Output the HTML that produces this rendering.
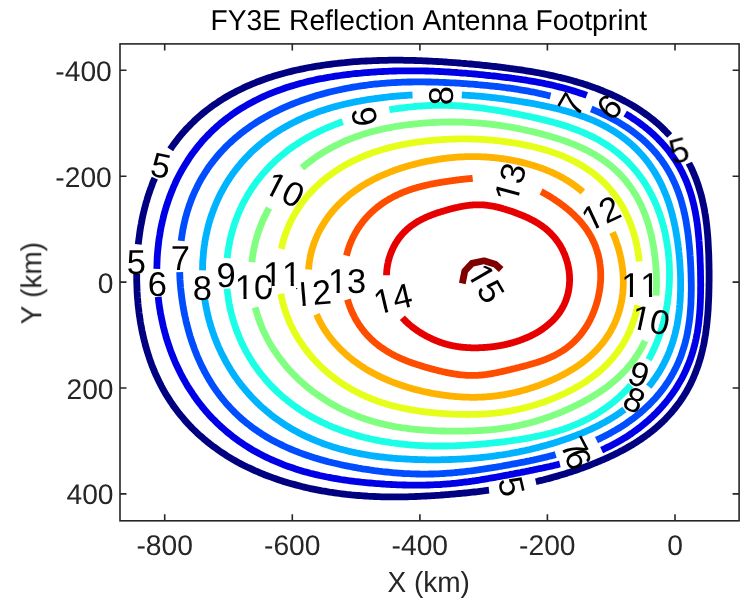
<!DOCTYPE html><html><head><meta charset="utf-8"><style>html,body{margin:0;padding:0;background:#fff;}svg{display:block;}</style></head><body>
<svg width="752" height="606" viewBox="0 0 752 606" font-family='"Liberation Sans", sans-serif' text-rendering="geometricPrecision">
<rect width="752" height="606" fill="#fff"/>
<defs><clipPath id="ax"><rect x="120" y="44" width="619" height="477"/></clipPath></defs>
<g clip-path="url(#ax)" fill="none" stroke-width="6.8" stroke-linejoin="round" stroke-linecap="butt">
<path d="M138.3,244.3 L138.6,241.3 L139.0,238.4 L139.4,235.4 L139.8,232.5 L140.2,229.5 L140.7,226.6 L141.3,223.6 L141.8,220.7 L142.4,217.8 L143.0,214.9 L143.7,212.0 L144.4,209.1 L145.2,206.2 L145.9,203.3 L146.8,200.5 L147.6,197.6 L148.5,194.8 L149.5,192.0 L150.4,189.2 L151.5,186.4 L152.5,183.6 L153.6,180.8 L154.8,178.1 M170.3,149.4 L171.9,146.9 L173.6,144.5 L175.4,142.1 L177.2,139.7 L179.0,137.4 L180.9,135.1 L182.9,132.8 L184.8,130.6 L186.8,128.4 L188.9,126.3 L191.0,124.1 L193.1,122.1 L195.2,120.0 L197.4,118.0 L199.7,116.0 L201.9,114.1 L204.2,112.2 L206.5,110.4 L208.9,108.6 L211.3,106.8 L213.7,105.1 L216.1,103.4 L218.6,101.7 L221.1,100.1 L223.6,98.5 L226.1,97.0 L228.7,95.5 L231.3,94.1 L233.9,92.7 L236.5,91.3 L239.1,90.0 L241.8,88.7 L244.4,87.4 L247.1,86.2 L249.7,85.1 L252.4,83.9 L255.1,82.8 L257.8,81.7 L260.5,80.7 L263.2,79.7 L265.9,78.8 L268.7,77.8 L271.4,77.0 L274.1,76.1 L276.8,75.3 L279.5,74.5 L282.2,73.7 L284.9,73.0 L287.6,72.3 L290.3,71.6 L293.0,70.9 L295.7,70.3 L298.4,69.7 L301.1,69.1 L303.7,68.6 L306.4,68.0 L309.0,67.5 L311.6,67.1 L314.3,66.6 L316.9,66.2 L319.5,65.8 L322.1,65.4 L324.6,65.0 L327.2,64.6 L329.7,64.3 L332.3,64.0 L334.8,63.6 L337.3,63.4 L339.8,63.1 L342.3,62.8 L344.8,62.6 L347.2,62.3 L349.7,62.1 L352.1,61.9 L354.5,61.7 L356.9,61.6 L359.3,61.4 L361.7,61.2 L364.1,61.1 L366.4,61.0 L368.7,60.9 L371.1,60.8 L373.4,60.7 L375.7,60.6 L378.0,60.5 L380.2,60.4 L382.5,60.4 L384.8,60.3 L387.0,60.3 L389.2,60.2 L391.4,60.2 L393.6,60.2 L395.8,60.2 L398.0,60.2 L400.2,60.2 L402.3,60.2 L404.5,60.3 L406.6,60.3 L408.7,60.3 L410.9,60.4 L413.0,60.4 L415.1,60.5 L417.1,60.6 L419.2,60.6 L421.3,60.7 L423.3,60.8 L425.4,60.9 L427.4,61.0 L429.5,61.1 L431.5,61.2 L433.5,61.3 L435.5,61.4 L437.5,61.5 L439.5,61.6 L441.5,61.7 L443.5,61.9 L445.4,62.0 L447.4,62.1 L449.3,62.3 L451.3,62.4 L453.2,62.6 L455.2,62.7 L457.1,62.9 L459.0,63.0 L460.9,63.2 L462.8,63.3 L464.8,63.5 L466.7,63.7 L468.6,63.8 L470.5,64.0 L472.3,64.2 L474.2,64.4 L476.1,64.6 L478.0,64.7 L479.9,64.9 L481.8,65.1 L483.6,65.3 L485.5,65.5 L487.4,65.7 L489.2,65.9 L491.1,66.1 L492.9,66.3 L494.8,66.5 L496.7,66.7 L498.5,67.0 L500.4,67.2 L502.2,67.4 L504.1,67.6 L505.9,67.9 L507.8,68.1 L509.6,68.4 L511.5,68.6 L513.3,68.9 L515.2,69.1 L517.0,69.4 L518.9,69.6 L520.7,69.9 L522.6,70.2 L524.4,70.5 L526.3,70.8 L528.2,71.1 L530.0,71.4 L531.9,71.7 L533.7,72.0 L535.6,72.4 L537.4,72.7 L539.3,73.0 L541.2,73.4 L543.0,73.7 L544.9,74.1 L546.8,74.5 L548.6,74.9 L550.5,75.3 L552.4,75.7 L554.2,76.1 L556.1,76.5 L558.0,77.0 L559.9,77.4 L561.7,77.9 L563.6,78.3 L565.5,78.8 L567.4,79.3 L569.2,79.8 L571.1,80.3 L573.0,80.8 L574.9,81.4 L576.8,81.9 L578.6,82.5 L580.5,83.0 L582.4,83.6 L584.3,84.2 L586.2,84.8 L588.1,85.5 L589.9,86.1 L591.8,86.8 L593.7,87.4 L595.6,88.1 L597.5,88.8 L599.3,89.5 L601.2,90.3 L603.1,91.0 L604.9,91.8 L606.8,92.6 L608.7,93.4 L610.5,94.2 L612.4,95.0 L614.2,95.9 L616.1,96.7 L617.9,97.6 L619.8,98.5 L621.6,99.5 L623.4,100.4 L625.3,101.4 L627.1,102.4 L628.9,103.4 L630.7,104.4 L632.4,105.4 L634.2,106.5 L636.0,107.6 L637.7,108.7 L639.5,109.8 L641.2,111.0 L642.9,112.2 L644.6,113.4 L646.3,114.6 L648.0,115.8 L649.7,117.1 L651.3,118.4 L653.0,119.7 L654.6,121.0 L656.2,122.4 L657.8,123.7 L659.3,125.1 L660.9,126.6 L662.4,128.0 L663.9,129.5 L665.4,131.0 L666.8,132.5 L668.3,134.0 L669.7,135.5 M688.9,163.1 L689.8,165.0 L690.8,166.9 L691.7,168.8 L692.6,170.7 L693.4,172.6 L694.2,174.5 L695.0,176.5 L695.8,178.4 L696.5,180.4 L697.2,182.4 L697.9,184.4 L698.6,186.4 L699.2,188.4 L699.8,190.4 L700.4,192.4 L701.0,194.4 L701.5,196.4 L702.0,198.5 L702.5,200.5 L702.9,202.5 L703.4,204.6 L703.8,206.6 L704.2,208.7 L704.6,210.7 L704.9,212.8 L705.3,214.8 L705.6,216.9 L705.9,218.9 L706.1,221.0 L706.4,223.1 L706.7,225.1 L706.9,227.2 L707.1,229.2 L707.3,231.3 L707.5,233.3 L707.7,235.4 L707.8,237.4 L708.0,239.5 L708.1,241.5 L708.2,243.5 L708.3,245.6 L708.4,247.6 L708.5,249.6 L708.6,251.7 L708.7,253.7 L708.8,255.7 L708.8,257.8 L708.9,259.8 L708.9,261.8 L709.0,263.8 L709.0,265.9 L709.0,267.9 L709.1,269.9 L709.1,271.9 L709.1,273.9 L709.1,276.0 L709.1,278.0 L709.1,280.0 L709.1,282.0 L709.0,284.0 L709.0,286.0 L709.0,288.1 L708.9,290.1 L708.9,292.1 L708.8,294.1 L708.8,296.1 L708.7,298.2 L708.6,300.2 L708.5,302.2 L708.4,304.2 L708.3,306.2 L708.2,308.3 L708.1,310.3 L707.9,312.3 L707.8,314.3 L707.6,316.4 L707.4,318.4 L707.2,320.4 L707.0,322.4 L706.8,324.5 L706.6,326.5 L706.3,328.5 L706.0,330.6 L705.8,332.6 L705.5,334.6 L705.1,336.6 L704.8,338.7 L704.4,340.7 L704.1,342.7 L703.7,344.7 L703.2,346.7 L702.8,348.7 L702.3,350.7 L701.8,352.7 L701.3,354.7 L700.8,356.7 L700.2,358.7 L699.6,360.7 L699.0,362.6 L698.4,364.6 L697.7,366.6 L697.0,368.5 L696.3,370.4 L695.6,372.4 L694.8,374.3 L694.0,376.2 L693.2,378.1 L692.4,380.0 L691.5,381.8 L690.6,383.7 L689.7,385.5 L688.7,387.4 L687.7,389.2 L686.7,391.0 L685.7,392.7 L684.6,394.5 L683.5,396.3 L682.4,398.0 L681.2,399.7 L680.1,401.4 L678.9,403.1 L677.6,404.7 L676.4,406.4 L675.1,408.0 L673.8,409.6 L672.5,411.2 L671.2,412.8 L669.8,414.3 L668.4,415.8 L667.0,417.3 L665.6,418.8 L664.1,420.3 L662.7,421.7 L661.2,423.1 L659.7,424.5 L658.1,425.9 L656.6,427.2 L655.0,428.6 L653.5,429.9 L651.9,431.2 L650.3,432.4 L648.7,433.7 L647.0,434.9 L645.4,436.1 L643.7,437.3 L642.1,438.4 L640.4,439.6 L638.7,440.7 L637.0,441.8 L635.3,442.9 L633.6,444.0 L631.9,445.0 L630.1,446.0 L628.4,447.0 L626.7,448.0 L624.9,449.0 L623.2,450.0 L621.4,450.9 L619.6,451.8 L617.9,452.7 L616.1,453.6 L614.3,454.5 L612.6,455.4 L610.8,456.2 L609.0,457.0 L607.2,457.9 L605.4,458.7 L603.7,459.5 L601.9,460.2 L600.1,461.0 L598.3,461.7 L596.5,462.5 L594.7,463.2 L592.9,463.9 L591.1,464.6 L589.4,465.3 L587.6,466.0 L585.8,466.7 L584.0,467.3 L582.2,468.0 L580.4,468.6 L578.6,469.3 L576.8,469.9 L575.1,470.5 L573.3,471.1 L571.5,471.7 L569.7,472.3 L567.9,472.8 L566.1,473.4 L564.4,474.0 L562.6,474.5 L560.8,475.0 L559.0,475.6 L557.2,476.1 L555.4,476.6 L553.7,477.1 L551.9,477.6 L550.1,478.1 L548.3,478.6 L546.5,479.0 L544.8,479.5 L543.0,480.0 L541.2,480.4 L539.4,480.8 L537.6,481.3 L535.8,481.7 M489.0,490.2 L487.2,490.4 L485.4,490.6 L483.5,490.9 L481.7,491.1 L479.8,491.3 L478.0,491.6 L476.2,491.8 L474.3,492.0 L472.4,492.2 L470.6,492.4 L468.7,492.6 L466.8,492.8 L465.0,493.0 L463.1,493.2 L461.2,493.4 L459.3,493.5 L457.4,493.7 L455.5,493.9 L453.6,494.1 L451.7,494.2 L449.8,494.4 L447.8,494.6 L445.9,494.7 L444.0,494.9 L442.0,495.0 L440.1,495.2 L438.1,495.3 L436.1,495.4 L434.1,495.6 L432.2,495.7 L430.2,495.8 L428.1,495.9 L426.1,496.0 L424.1,496.1 L422.1,496.2 L420.0,496.3 L418.0,496.4 L415.9,496.5 L413.8,496.6 L411.8,496.7 L409.7,496.7 L407.6,496.8 L405.5,496.8 L403.3,496.9 L401.2,496.9 L399.0,496.9 L396.9,496.9 L394.7,496.9 L392.5,496.9 L390.4,496.9 L388.2,496.9 L385.9,496.9 L383.7,496.8 L381.5,496.8 L379.2,496.7 L377.0,496.6 L374.7,496.5 L372.4,496.4 L370.2,496.3 L367.9,496.2 L365.5,496.0 L363.2,495.9 L360.9,495.7 L358.5,495.5 L356.2,495.3 L353.8,495.1 L351.4,494.9 L349.0,494.6 L346.6,494.4 L344.2,494.1 L341.8,493.8 L339.4,493.5 L336.9,493.2 L334.5,492.8 L332.0,492.4 L329.5,492.1 L327.0,491.7 L324.5,491.2 L322.0,490.8 L319.5,490.3 L317.0,489.8 L314.5,489.3 L311.9,488.8 L309.4,488.3 L306.8,487.7 L304.2,487.1 L301.7,486.5 L299.1,485.8 L296.5,485.1 L293.9,484.4 L291.3,483.7 L288.7,483.0 L286.1,482.2 L283.5,481.4 L280.9,480.6 L278.3,479.7 L275.7,478.8 L273.1,477.9 L270.5,476.9 L267.9,476.0 L265.2,475.0 L262.6,473.9 L260.0,472.8 L257.4,471.7 L254.8,470.6 L252.3,469.4 L249.7,468.2 L247.1,467.0 L244.5,465.7 L242.0,464.4 L239.4,463.1 L236.9,461.7 L234.4,460.3 L231.9,458.8 L229.4,457.3 L226.9,455.8 L224.5,454.2 L222.0,452.6 L219.6,451.0 L217.2,449.3 L214.9,447.6 L212.5,445.9 L210.2,444.1 L207.9,442.3 L205.6,440.4 L203.4,438.6 L201.2,436.6 L199.0,434.7 L196.8,432.7 L194.7,430.6 L192.6,428.6 L190.5,426.5 L188.5,424.3 L186.5,422.2 L184.6,420.0 L182.7,417.7 L180.8,415.5 L178.9,413.2 L177.1,410.8 L175.4,408.5 L173.6,406.1 L172.0,403.6 L170.3,401.2 L168.7,398.7 L167.1,396.2 L165.6,393.7 L164.1,391.1 L162.7,388.6 L161.3,386.0 L160.0,383.3 L158.6,380.7 L157.4,378.0 L156.1,375.3 L154.9,372.6 L153.8,369.9 L152.7,367.2 L151.6,364.4 L150.6,361.6 L149.6,358.8 L148.7,356.0 L147.8,353.2 L146.9,350.4 L146.1,347.5 L145.3,344.7 L144.6,341.8 L143.8,338.9 L143.2,336.0 L142.5,333.1 L141.9,330.2 L141.4,327.3 L140.8,324.4 L140.3,321.5 L139.9,318.5 L139.4,315.6 L139.0,312.6 L138.7,309.7 L138.3,306.7 L138.0,303.8 L137.8,300.8 L137.5,297.8 L137.3,294.9 L137.1,291.9 L137.0,288.9 L136.9,286.0 L136.8,283.0 L136.7,280.0 L136.7,277.0 L136.7,274.0" stroke="#000080"/>
<path d="M156.8,268.8 L156.9,266.0 L157.0,263.2 L157.1,260.4 L157.2,257.6 L157.4,254.8 L157.6,252.0 L157.9,249.2 L158.2,246.4 L158.5,243.6 L158.8,240.8 L159.2,238.0 L159.7,235.3 L160.1,232.5 L160.6,229.7 L161.1,227.0 L161.7,224.2 L162.3,221.5 L163.0,218.8 L163.6,216.0 L164.3,213.3 L165.1,210.6 L165.9,207.9 L166.7,205.3 L167.6,202.6 L168.5,200.0 L169.4,197.3 L170.4,194.7 L171.4,192.1 L172.5,189.5 L173.5,186.9 L174.7,184.4 L175.8,181.8 L177.0,179.3 L178.3,176.8 L179.6,174.3 L180.9,171.9 L182.3,169.4 L183.7,167.0 L185.1,164.6 L186.6,162.3 L188.1,159.9 L189.6,157.6 L191.2,155.3 L192.8,153.0 L194.5,150.8 L196.2,148.6 L197.9,146.4 L199.7,144.3 L201.5,142.1 L203.3,140.1 L205.2,138.0 L207.1,136.0 L209.1,134.0 L211.0,132.0 L213.0,130.1 L215.1,128.2 L217.1,126.3 L219.2,124.5 L221.3,122.7 L223.5,121.0 L225.7,119.2 L227.9,117.6 L230.1,115.9 L232.3,114.3 L234.6,112.7 L236.9,111.2 L239.2,109.7 L241.6,108.2 L243.9,106.8 L246.3,105.4 L248.7,104.0 L251.1,102.7 L253.5,101.4 L255.9,100.2 L258.4,99.0 L260.8,97.8 L263.3,96.6 L265.8,95.5 L268.3,94.4 L270.8,93.4 L273.3,92.4 L275.8,91.4 L278.3,90.5 L280.8,89.6 L283.3,88.7 L285.8,87.8 L288.3,87.0 L290.8,86.2 L293.4,85.4 L295.9,84.7 L298.4,84.0 L300.9,83.3 L303.4,82.7 L305.9,82.0 L308.4,81.4 L310.9,80.8 L313.4,80.3 L315.8,79.7 L318.3,79.2 L320.8,78.7 L323.2,78.3 L325.6,77.8 L328.1,77.4 L330.5,77.0 L332.9,76.6 L335.3,76.2 L337.7,75.8 L340.1,75.5 L342.4,75.2 L344.8,74.8 L347.1,74.5 L349.4,74.3 L351.8,74.0 L354.1,73.7 L356.4,73.5 L358.6,73.3 L360.9,73.1 L363.2,72.8 L365.4,72.6 L367.7,72.5 L369.9,72.3 L372.1,72.1 L374.3,72.0 L376.5,71.8 L378.6,71.7 L380.8,71.6 L383.0,71.5 L385.1,71.4 L387.2,71.3 L389.4,71.2 L391.5,71.1 L393.6,71.0 L395.7,71.0 L397.7,70.9 L399.8,70.9 L401.9,70.9 L403.9,70.8 L406.0,70.8 L408.0,70.8 L410.0,70.8 L412.0,70.8 L414.0,70.8 L416.0,70.8 L418.0,70.8 L420.0,70.9 L422.0,70.9 L423.9,70.9 L425.9,71.0 L427.8,71.0 L429.8,71.1 L431.7,71.2 L433.6,71.2 L435.5,71.3 L437.5,71.4 L439.4,71.5 L441.3,71.6 L443.1,71.7 L445.0,71.8 L446.9,71.9 L448.8,72.0 L450.6,72.1 L452.5,72.3 L454.3,72.4 L456.2,72.5 L458.0,72.7 L459.9,72.8 L461.7,73.0 L463.5,73.1 L465.4,73.2 L467.2,73.4 L469.0,73.6 L470.8,73.7 L472.6,73.9 L474.4,74.0 L476.2,74.2 L478.0,74.4 L479.8,74.6 L481.6,74.7 L483.4,74.9 L485.2,75.1 L486.9,75.3 L488.7,75.5 L490.5,75.7 L492.3,75.8 L494.1,76.0 L495.8,76.2 L497.6,76.4 L499.4,76.6 L501.1,76.9 L502.9,77.1 L504.7,77.3 L506.5,77.5 L508.2,77.7 L510.0,77.9 L511.8,78.2 L513.5,78.4 L515.3,78.7 L517.1,78.9 L518.9,79.2 L520.6,79.4 L522.4,79.7 L524.2,79.9 L526.0,80.2 L527.7,80.5 L529.5,80.8 L531.3,81.1 L533.1,81.4 L534.9,81.7 L536.6,82.0 L538.4,82.4 L540.2,82.7 L542.0,83.0 L543.8,83.4 L545.6,83.8 L547.4,84.1 L549.1,84.5 L550.9,84.9 L552.7,85.3 L554.5,85.7 L556.3,86.2 L558.1,86.6 L559.9,87.1 L561.7,87.5 L563.5,88.0 L565.3,88.5 L567.1,89.0 L568.9,89.5 L570.7,90.0 L572.4,90.6 L574.2,91.1 L576.0,91.7 L577.8,92.3 L579.6,92.9 L581.4,93.5 L583.2,94.1 L585.0,94.7 L586.8,95.4 M625.2,113.6 L626.9,114.6 L628.6,115.6 L630.3,116.7 L631.9,117.8 L633.6,118.9 L635.2,120.0 L636.9,121.1 L638.5,122.3 L640.1,123.5 L641.7,124.7 L643.3,125.9 L644.9,127.1 L646.4,128.4 L648.0,129.6 L649.5,130.9 L651.0,132.2 L652.5,133.6 L654.0,134.9 L655.4,136.3 L656.9,137.7 L658.3,139.1 L659.7,140.6 L661.1,142.0 L662.4,143.5 L663.8,145.0 L665.1,146.6 L666.4,148.1 L667.7,149.7 L668.9,151.2 L670.1,152.8 L671.3,154.5 L672.5,156.1 L673.6,157.7 L674.8,159.4 L675.9,161.1 L676.9,162.8 L678.0,164.5 L679.0,166.3 L680.0,168.0 L680.9,169.8 L681.9,171.6 L682.8,173.4 L683.6,175.2 L684.5,177.0 L685.3,178.9 L686.1,180.7 L686.9,182.6 L687.6,184.5 L688.3,186.4 L689.0,188.3 L689.6,190.2 L690.3,192.1 L690.9,194.0 L691.5,195.9 L692.0,197.9 L692.5,199.8 L693.0,201.7 L693.5,203.7 L694.0,205.6 L694.4,207.6 L694.8,209.6 L695.2,211.5 L695.6,213.5 L695.9,215.4 L696.3,217.4 L696.6,219.4 L696.9,221.4 L697.2,223.3 L697.4,225.3 L697.7,227.3 L697.9,229.2 L698.1,231.2 L698.3,233.2 L698.5,235.1 L698.7,237.1 L698.9,239.1 L699.0,241.0 L699.2,243.0 L699.3,244.9 L699.4,246.9 L699.6,248.9 L699.7,250.8 L699.8,252.8 L699.9,254.7 L700.0,256.7 L700.1,258.6 L700.1,260.6 L700.2,262.5 L700.3,264.5 L700.4,266.4 L700.4,268.3 L700.5,270.3 L700.5,272.2 L700.5,274.2 L700.6,276.1 L700.6,278.1 L700.6,280.0 L700.6,281.9 L700.7,283.9 L700.7,285.8 L700.6,287.8 L700.6,289.7 L700.6,291.7 L700.6,293.6 L700.5,295.6 L700.5,297.5 L700.4,299.5 L700.4,301.4 L700.3,303.4 L700.2,305.3 L700.1,307.3 L700.0,309.2 L699.8,311.2 L699.7,313.1 L699.5,315.1 L699.3,317.0 L699.1,319.0 L698.9,320.9 L698.7,322.9 L698.5,324.9 L698.2,326.8 L697.9,328.8 L697.6,330.7 L697.3,332.6 L696.9,334.6 L696.5,336.5 L696.2,338.5 L695.7,340.4 L695.3,342.3 L694.8,344.2 L694.4,346.1 L693.8,348.1 L693.3,350.0 L692.8,351.9 L692.2,353.7 L691.6,355.6 L690.9,357.5 L690.3,359.4 L689.6,361.2 L688.9,363.1 L688.1,364.9 L687.4,366.7 L686.6,368.5 L685.8,370.4 L685.0,372.1 L684.1,373.9 L683.2,375.7 L682.3,377.5 L681.4,379.2 L680.4,380.9 L679.4,382.6 L678.4,384.3 L677.4,386.0 L676.4,387.7 L675.3,389.4 L674.2,391.0 L673.1,392.6 L671.9,394.2 L670.8,395.8 L669.6,397.4 L668.4,399.0 L667.2,400.5 L665.9,402.1 L664.7,403.6 L663.4,405.1 L662.1,406.5 L660.8,408.0 L659.5,409.4 L658.1,410.9 L656.8,412.3 L655.4,413.7 L654.0,415.0 L652.6,416.4 L651.2,417.7 L649.7,419.1 L648.3,420.4 L646.8,421.6 L645.3,422.9 L643.8,424.2 L642.3,425.4 L640.8,426.6 L639.3,427.8 L637.7,429.0 L636.2,430.1 L634.6,431.2 L633.0,432.4 L631.5,433.5 L629.9,434.5 L628.3,435.6 L626.7,436.7 L625.0,437.7 L623.4,438.7 L621.8,439.7 L620.1,440.6 L618.5,441.6 L616.8,442.5 L615.1,443.4 L613.5,444.3 L611.8,445.2 L610.1,446.1 L608.4,446.9 L606.7,447.7 L605.0,448.5 L603.3,449.3 L601.6,450.1 M559.9,464.0 L558.2,464.4 L556.5,464.9 L554.7,465.3 L553.0,465.7 L551.3,466.1 L549.6,466.5 L547.9,466.8 L546.1,467.2 L544.4,467.6 L542.7,468.0 L541.0,468.3 L539.3,468.7 L537.6,469.0 L535.9,469.4 L534.2,469.7 L532.5,470.1 L530.8,470.4 L529.1,470.8 L527.4,471.1 L525.7,471.5 L524.0,471.8 L522.4,472.1 L520.7,472.5 L519.0,472.8 L517.3,473.1 L515.6,473.4 L513.9,473.8 L512.2,474.1 L510.5,474.4 L508.8,474.8 L507.2,475.1 L505.5,475.4 L503.8,475.7 L502.1,476.0 L500.4,476.4 L498.7,476.7 L497.0,477.0 L495.3,477.3 L493.6,477.6 L491.8,477.9 L490.1,478.2 L488.4,478.5 L486.7,478.8 L485.0,479.1 L483.2,479.4 L481.5,479.7 L479.7,480.0 L478.0,480.3 L476.3,480.5 L474.5,480.8 L472.7,481.0 L471.0,481.3 L469.2,481.5 L467.4,481.8 L465.6,482.0 L463.9,482.2 L462.1,482.5 L460.3,482.7 L458.5,482.9 L456.7,483.1 L454.8,483.3 L453.0,483.4 L451.2,483.6 L449.4,483.8 L447.5,483.9 L445.7,484.1 L443.8,484.2 L442.0,484.3 L440.1,484.5 L438.2,484.6 L436.4,484.7 L434.5,484.7 L432.6,484.8 L430.7,484.9 L428.8,485.0 L426.9,485.0 L425.0,485.1 L423.0,485.1 L421.1,485.1 L419.2,485.1 L417.2,485.2 L415.3,485.2 L413.3,485.1 L411.4,485.1 L409.4,485.1 L407.4,485.1 L405.4,485.0 L403.4,485.0 L401.4,484.9 L399.4,484.9 L397.3,484.8 L395.3,484.7 L393.3,484.6 L391.2,484.5 L389.1,484.4 L387.1,484.3 L385.0,484.2 L382.9,484.0 L380.8,483.9 L378.6,483.7 L376.5,483.6 L374.4,483.4 L372.2,483.2 L370.1,483.0 L367.9,482.8 L365.7,482.6 L363.5,482.4 L361.3,482.2 L359.1,481.9 L356.8,481.6 L354.6,481.4 L352.3,481.1 L350.1,480.8 L347.8,480.5 L345.5,480.2 L343.2,479.8 L340.9,479.5 L338.6,479.1 L336.3,478.7 L333.9,478.3 L331.6,477.9 L329.2,477.4 L326.9,477.0 L324.5,476.5 L322.1,476.0 L319.7,475.5 L317.3,474.9 L314.9,474.4 L312.5,473.8 L310.1,473.2 L307.7,472.5 L305.3,471.9 L302.8,471.2 L300.4,470.4 L298.0,469.7 L295.5,468.9 L293.1,468.1 L290.7,467.3 L288.3,466.5 L285.8,465.6 L283.4,464.7 L281.0,463.7 L278.6,462.7 L276.2,461.7 L273.8,460.7 L271.4,459.6 L269.0,458.5 L266.6,457.4 L264.2,456.2 L261.9,455.0 L259.5,453.8 L257.2,452.5 L254.9,451.2 L252.5,449.9 L250.2,448.5 L248.0,447.1 L245.7,445.7 L243.5,444.2 L241.2,442.7 L239.0,441.2 L236.8,439.6 L234.7,438.0 L232.5,436.4 L230.4,434.7 L228.3,433.0 L226.2,431.3 L224.2,429.5 L222.1,427.7 L220.1,425.9 L218.1,424.0 L216.2,422.2 L214.3,420.2 L212.4,418.3 L210.5,416.3 L208.6,414.3 L206.8,412.3 L205.0,410.2 L203.3,408.1 L201.6,406.0 L199.9,403.8 L198.2,401.7 L196.6,399.5 L195.0,397.2 L193.4,395.0 L191.9,392.7 L190.4,390.4 L188.9,388.1 L187.4,385.8 L186.0,383.4 L184.7,381.0 L183.3,378.6 L182.0,376.2 L180.7,373.7 L179.5,371.3 L178.3,368.8 L177.1,366.3 L175.9,363.8 L174.8,361.2 L173.8,358.7 L172.7,356.1 L171.7,353.5 L170.7,350.9 L169.8,348.3 L168.9,345.7 L168.0,343.1 L167.1,340.4 L166.3,337.8 L165.6,335.1 L164.8,332.4 L164.1,329.7 L163.4,327.0 L162.8,324.3 L162.2,321.6 L161.6,318.8 L161.1,316.1 L160.5,313.4 L160.1,310.6 L159.6,307.9 L159.2,305.1 L158.8,302.3 L158.5,299.5 L158.2,296.8" stroke="#0000e6"/>
<path d="M181.2,240.9 L181.5,238.3 L181.9,235.7 L182.3,233.2 L182.7,230.6 L183.2,228.0 L183.7,225.5 L184.3,222.9 L184.9,220.4 L185.5,217.8 L186.2,215.3 L186.9,212.8 L187.7,210.3 L188.5,207.8 L189.3,205.3 L190.2,202.9 L191.1,200.4 L192.0,198.0 L193.0,195.6 L194.1,193.2 L195.1,190.8 L196.3,188.5 L197.4,186.1 L198.6,183.8 L199.8,181.5 L201.1,179.2 L202.4,177.0 L203.8,174.7 L205.2,172.5 L206.6,170.3 L208.0,168.2 L209.5,166.0 L211.1,163.9 L212.7,161.9 L214.3,159.8 L215.9,157.8 L217.6,155.8 L219.3,153.8 L221.0,151.9 L222.8,150.0 L224.6,148.1 L226.4,146.2 L228.3,144.4 L230.2,142.6 L232.1,140.9 L234.0,139.1 L236.0,137.4 L238.0,135.8 L240.0,134.1 L242.0,132.5 L244.1,131.0 L246.1,129.4 L248.2,127.9 L250.3,126.4 L252.4,125.0 L254.6,123.6 L256.7,122.2 L258.9,120.8 L261.1,119.5 L263.3,118.2 L265.5,116.9 L267.7,115.7 L269.9,114.5 L272.2,113.3 L274.4,112.2 L276.7,111.1 L278.9,110.0 L281.2,108.9 L283.4,107.9 L285.7,106.9 L288.0,105.9 L290.3,104.9 L292.5,104.0 L294.8,103.1 L297.1,102.2 L299.4,101.4 L301.6,100.5 L303.9,99.7 L306.2,98.9 L308.4,98.2 L310.7,97.4 L313.0,96.7 L315.2,96.0 L317.5,95.3 L319.7,94.7 L322.0,94.1 L324.2,93.5 L326.5,92.9 L328.7,92.3 L330.9,91.7 L333.1,91.2 L335.3,90.7 L337.6,90.2 L339.8,89.7 L341.9,89.3 L344.1,88.8 L346.3,88.4 L348.5,88.0 L350.6,87.6 L352.8,87.2 L354.9,86.8 L357.1,86.5 L359.2,86.2 L361.3,85.8 L363.5,85.5 L365.6,85.3 L367.7,85.0 L369.8,84.7 L371.8,84.5 L373.9,84.2 L376.0,84.0 L378.0,83.8 L380.1,83.6 L382.1,83.4 L384.2,83.3 L386.2,83.1 L388.2,82.9 L390.2,82.8 L392.2,82.7 L394.2,82.6 L396.2,82.5 L398.1,82.4 L400.1,82.3 L402.1,82.2 L404.0,82.1 L406.0,82.1 L407.9,82.0 L409.8,82.0 L411.7,82.0 L413.6,81.9 L415.5,81.9 L417.4,81.9 L419.3,81.9 L421.2,81.9 L423.1,81.9 L424.9,81.9 L426.8,82.0 L428.6,82.0 L430.5,82.0 L432.3,82.1 L434.1,82.1 L435.9,82.2 L437.8,82.2 L439.6,82.3 L441.4,82.4 L443.2,82.4 L444.9,82.5 L446.7,82.6 L448.5,82.7 L450.3,82.8 L452.0,82.8 L453.8,82.9 L455.6,83.0 L457.3,83.1 L459.1,83.2 L460.8,83.4 L462.5,83.5 L464.3,83.6 L466.0,83.7 L467.7,83.8 L469.4,84.0 L471.2,84.1 L472.9,84.2 L474.6,84.4 L476.3,84.5 L478.0,84.7 L479.7,84.8 L481.4,85.0 L483.1,85.1 L484.8,85.3 L486.5,85.4 L488.2,85.6 L489.9,85.8 L491.6,86.0 L493.3,86.1 L494.9,86.3 L496.6,86.5 L498.3,86.7 L500.0,86.9 L501.7,87.1 L503.4,87.3 L505.0,87.5 L506.7,87.8 L508.4,88.0 L510.1,88.2 L511.8,88.5 L513.5,88.7 L515.1,89.0 L516.8,89.2 L518.5,89.5 L520.2,89.8 L521.9,90.1 L523.5,90.3 L525.2,90.6 L526.9,90.9 L528.6,91.2 L530.3,91.6 L531.9,91.9 L533.6,92.2 L535.3,92.5 L537.0,92.9 L538.7,93.3 L540.4,93.6 L542.0,94.0 L543.7,94.4 L545.4,94.8 L547.1,95.2 L548.8,95.6 L550.5,96.0 M591.2,109.0 L592.9,109.7 L594.6,110.4 L596.3,111.1 L598.0,111.8 L599.6,112.6 L601.3,113.3 L603.0,114.1 L604.7,114.9 L606.3,115.7 L608.0,116.5 L609.7,117.4 L611.3,118.3 L613.0,119.1 L614.6,120.0 L616.3,120.9 L617.9,121.9 L619.5,122.8 L621.1,123.8 L622.7,124.8 L624.3,125.8 L625.9,126.8 L627.5,127.9 L629.1,128.9 L630.6,130.0 L632.2,131.1 L633.7,132.3 L635.2,133.4 L636.7,134.6 L638.2,135.8 L639.7,137.0 L641.1,138.2 L642.6,139.5 L644.0,140.7 L645.4,142.0 L646.8,143.3 L648.1,144.7 L649.5,146.0 L650.8,147.4 L652.1,148.8 L653.4,150.2 L654.7,151.6 L655.9,153.1 L657.2,154.6 L658.3,156.0 L659.5,157.6 L660.7,159.1 L661.8,160.6 L662.9,162.2 L664.0,163.8 L665.1,165.4 L666.1,167.0 L667.1,168.6 L668.1,170.3 L669.0,171.9 L670.0,173.6 L670.9,175.3 L671.8,177.0 L672.6,178.7 L673.4,180.4 L674.2,182.2 L675.0,183.9 L675.8,185.7 L676.5,187.4 L677.2,189.2 L677.9,191.0 L678.6,192.8 L679.2,194.6 L679.8,196.4 L680.4,198.2 L681.0,200.1 L681.5,201.9 L682.0,203.7 L682.5,205.6 L683.0,207.4 L683.5,209.2 L683.9,211.1 L684.3,213.0 L684.8,214.8 L685.1,216.7 L685.5,218.5 L685.9,220.4 L686.2,222.3 L686.5,224.1 L686.8,226.0 L687.1,227.9 L687.4,229.7 L687.7,231.6 L687.9,233.5 L688.2,235.3 L688.4,237.2 L688.6,239.1 L688.8,240.9 L689.0,242.8 L689.2,244.7 L689.4,246.5 L689.5,248.4 L689.7,250.2 L689.9,252.1 L690.0,254.0 L690.1,255.8 L690.3,257.7 L690.4,259.5 L690.5,261.4 L690.6,263.3 L690.7,265.1 L690.8,267.0 L690.9,268.8 L690.9,270.7 L691.0,272.6 L691.1,274.4 L691.1,276.3 L691.2,278.1 L691.2,280.0 L691.2,281.9 L691.3,283.7 L691.3,285.6 L691.3,287.4 L691.3,289.3 L691.3,291.2 L691.2,293.0 L691.2,294.9 L691.2,296.8 L691.1,298.6 L691.0,300.5 L691.0,302.4 L690.9,304.3 L690.8,306.1 L690.6,308.0 L690.5,309.9 L690.3,311.7 L690.2,313.6 L690.0,315.5 L689.8,317.3 L689.6,319.2 L689.4,321.1 L689.1,322.9 L688.8,324.8 L688.5,326.7 L688.2,328.5 L687.9,330.4 L687.6,332.2 L687.2,334.1 L686.8,335.9 L686.4,337.8 L685.9,339.6 L685.5,341.5 L685.0,343.3 L684.5,345.1 L684.0,346.9 L683.4,348.7 L682.8,350.5 L682.2,352.3 L681.6,354.1 L681.0,355.9 L680.3,357.7 L679.6,359.4 L678.9,361.2 L678.1,362.9 L677.3,364.6 L676.6,366.3 L675.7,368.0 L674.9,369.7 L674.0,371.4 L673.1,373.1 L672.2,374.7 L671.3,376.4 L670.3,378.0 L669.3,379.6 L668.3,381.2 L667.3,382.8 L666.2,384.3 L665.1,385.9 L664.0,387.4 L662.9,388.9 L661.8,390.4 L660.6,391.9 L659.4,393.4 L658.2,394.8 L657.0,396.2 L655.8,397.7 L654.5,399.1 L653.2,400.4 L651.9,401.8 L650.6,403.1 L649.3,404.5 L648.0,405.8 L646.6,407.1 L645.3,408.3 L643.9,409.6 L642.5,410.8 L641.1,412.1 L639.7,413.3 L638.2,414.4 L636.8,415.6 L635.3,416.8 L633.9,417.9 L632.4,419.0 L630.9,420.1 L629.4,421.2 L627.9,422.2 L626.4,423.3 L624.9,424.3 L623.3,425.3 L621.8,426.3 L620.2,427.3 L618.7,428.3 L617.1,429.2 L615.6,430.1 L614.0,431.0 L612.4,431.9 L610.9,432.8 L609.3,433.7 L607.7,434.5 L606.1,435.4 L604.5,436.2 L602.9,437.0 L601.3,437.8 L599.7,438.6 L598.1,439.3 L596.5,440.1 M555.7,454.6 L554.1,455.1 L552.5,455.5 L550.9,455.9 L549.2,456.3 L547.6,456.7 L546.0,457.1 L544.4,457.5 L542.8,457.9 L541.1,458.3 L539.5,458.7 L537.9,459.0 L536.3,459.4 L534.7,459.7 L533.1,460.1 L531.4,460.4 L529.8,460.8 L528.2,461.1 L526.6,461.4 L525.0,461.8 L523.4,462.1 L521.8,462.4 L520.2,462.7 L518.6,463.0 L517.0,463.3 L515.4,463.6 L513.8,463.9 L512.1,464.2 L510.5,464.5 L508.9,464.8 L507.3,465.1 L505.7,465.4 L504.1,465.7 L502.5,466.0 L500.9,466.3 L499.3,466.5 L497.6,466.8 L496.0,467.1 L494.4,467.3 L492.8,467.6 L491.1,467.9 L489.5,468.1 L487.9,468.4 L486.2,468.7 L484.6,468.9 L483.0,469.2 L481.3,469.4 L479.7,469.6 L478.0,469.9 L476.3,470.1 L474.7,470.4 L473.0,470.6 L471.3,470.8 L469.7,471.0 L468.0,471.2 L466.3,471.4 L464.6,471.6 L462.9,471.8 L461.2,472.0 L459.5,472.2 L457.8,472.4 L456.1,472.5 L454.3,472.7 L452.6,472.8 L450.9,473.0 L449.1,473.1 L447.4,473.2 L445.6,473.4 L443.9,473.5 L442.1,473.6 L440.4,473.7 L438.6,473.8 L436.8,473.8 L435.0,473.9 L433.2,474.0 L431.4,474.0 L429.6,474.0 L427.8,474.1 L426.0,474.1 L424.2,474.1 L422.4,474.1 L420.5,474.1 L418.7,474.0 L416.8,474.0 L415.0,473.9 L413.1,473.9 L411.3,473.8 L409.4,473.7 L407.5,473.7 L405.6,473.6 L403.7,473.5 L401.8,473.3 L399.9,473.2 L398.0,473.1 L396.1,472.9 L394.2,472.8 L392.3,472.6 L390.3,472.4 L388.4,472.2 L386.4,472.0 L384.5,471.8 L382.5,471.6 L380.5,471.3 L378.5,471.1 L376.5,470.8 L374.5,470.6 L372.5,470.3 L370.5,470.0 L368.5,469.7 L366.4,469.4 L364.4,469.1 L362.3,468.8 L360.3,468.4 L358.2,468.1 L356.1,467.7 L354.0,467.3 L351.9,466.9 L349.8,466.5 L347.7,466.1 L345.6,465.7 L343.4,465.2 L341.3,464.8 L339.1,464.3 L337.0,463.8 L334.8,463.3 L332.6,462.8 L330.4,462.2 L328.2,461.7 L326.0,461.1 L323.8,460.5 L321.6,459.9 L319.4,459.2 L317.2,458.6 L315.0,457.9 L312.7,457.2 L310.5,456.5 L308.3,455.8 L306.0,455.0 L303.8,454.2 L301.5,453.4 L299.3,452.6 L297.1,451.7 L294.8,450.8 L292.6,449.9 L290.4,449.0 L288.1,448.0 L285.9,447.0 L283.7,446.0 L281.5,444.9 L279.3,443.8 L277.1,442.7 L274.9,441.6 L272.7,440.4 L270.5,439.2 L268.4,438.0 L266.2,436.7 L264.1,435.4 L262.0,434.1 L259.9,432.7 L257.8,431.3 L255.8,429.9 L253.7,428.4 L251.7,427.0 L249.7,425.4 L247.7,423.9 L245.8,422.3 L243.8,420.7 L241.9,419.1 L240.0,417.4 L238.2,415.7 L236.3,413.9 L234.5,412.2 L232.8,410.4 L231.0,408.6 L229.3,406.7 L227.6,404.9 L225.9,403.0 L224.3,401.0 L222.7,399.1 L221.1,397.1 L219.5,395.1 L218.0,393.0 L216.5,391.0 L215.1,388.9 L213.6,386.8 L212.2,384.7 L210.9,382.5 L209.6,380.4 L208.3,378.2 L207.0,376.0 L205.7,373.7 L204.5,371.5 L203.4,369.2 L202.2,367.0 L201.1,364.7 L200.0,362.3 L199.0,360.0 L197.9,357.7 L196.9,355.3 L196.0,352.9 L195.0,350.5 L194.1,348.1 L193.3,345.7 L192.4,343.3 L191.6,340.9 L190.8,338.4 L190.0,336.0 L189.3,333.5 L188.6,331.0 L187.9,328.5 L187.3,326.0 L186.6,323.5 L186.0,321.0 L185.5,318.5 L184.9,316.0 L184.4,313.5 L183.9,310.9 L183.4,308.4 L183.0,305.8 L182.6,303.3 L182.2,300.7 L181.8,298.1 L181.5,295.5 L181.2,293.0 L180.9,290.4 L180.6,287.8 L180.4,285.2 L180.2,282.6 L180.0,280.0 L179.9,277.4 L179.8,274.8 L179.7,272.2" stroke="#004dff"/>
<path d="M202.5,270.4 L202.6,268.0 L202.6,265.6 L202.7,263.2 L202.8,260.8 L203.0,258.4 L203.2,256.0 L203.4,253.6 L203.6,251.2 L203.9,248.8 L204.2,246.4 L204.6,244.0 L204.9,241.6 L205.3,239.3 L205.8,236.9 L206.3,234.5 L206.8,232.2 L207.3,229.8 L207.9,227.5 L208.5,225.2 L209.1,222.9 L209.8,220.5 L210.5,218.2 L211.3,216.0 L212.0,213.7 L212.9,211.4 L213.7,209.2 L214.6,206.9 L215.5,204.7 L216.4,202.5 L217.4,200.3 L218.4,198.1 L219.4,196.0 L220.5,193.8 L221.6,191.7 L222.8,189.6 L223.9,187.5 L225.1,185.5 L226.3,183.4 L227.6,181.4 L228.9,179.4 L230.2,177.4 L231.6,175.4 L232.9,173.4 L234.4,171.5 L235.8,169.6 L237.3,167.7 L238.8,165.9 L240.3,164.1 L241.8,162.2 L243.4,160.5 L245.0,158.7 L246.6,157.0 L248.3,155.3 L249.9,153.6 L251.6,151.9 L253.4,150.3 L255.1,148.7 L256.9,147.1 L258.6,145.6 L260.4,144.1 L262.3,142.6 L264.1,141.1 L266.0,139.7 L267.8,138.3 L269.7,136.9 L271.7,135.5 L273.6,134.2 L275.5,132.9 L277.5,131.6 L279.4,130.4 L281.4,129.2 L283.4,128.0 L285.4,126.8 L287.4,125.7 L289.5,124.6 L291.5,123.5 L293.5,122.5 L295.6,121.4 L297.6,120.4 L299.7,119.5 L301.8,118.5 L303.8,117.6 L305.9,116.7 L308.0,115.8 L310.1,115.0 L312.2,114.2 L314.3,113.4 L316.3,112.6 L318.4,111.8 L320.5,111.1 L322.6,110.4 L324.7,109.7 L326.8,109.1 L328.9,108.4 L330.9,107.8 L333.0,107.2 L335.1,106.6 L337.2,106.1 L339.2,105.5 L341.3,105.0 L343.3,104.5 L345.4,104.0 L347.4,103.5 L349.5,103.1 L351.5,102.7 L353.5,102.2 L355.5,101.8 L357.6,101.4 L359.6,101.1 L361.6,100.7 L363.6,100.4 L365.5,100.0 L367.5,99.7 L369.5,99.4 L371.4,99.1 L373.4,98.8 L375.3,98.5 L377.3,98.3 L379.2,98.0 L381.1,97.8 L383.0,97.5 L384.9,97.3 L386.8,97.1 L388.7,96.9 L390.6,96.7 L392.4,96.5 L394.3,96.4 L396.2,96.2 L398.0,96.0 L399.8,95.9 L401.7,95.7 L403.5,95.6 L405.3,95.5 L407.1,95.4 L408.9,95.2 L410.7,95.1 L412.5,95.0 M461.8,95.0 L463.4,95.1 L465.1,95.2 L466.7,95.3 L468.3,95.4 L469.9,95.5 L471.6,95.6 L473.2,95.7 L474.8,95.8 L476.4,96.0 L478.0,96.1 L479.6,96.2 L481.2,96.4 L482.8,96.5 L484.4,96.7 L486.0,96.9 L487.6,97.0 L489.2,97.2 L490.8,97.4 L492.4,97.6 L493.9,97.7 L495.5,97.9 L497.1,98.1 L498.7,98.3 L500.3,98.5 L501.9,98.7 L503.4,98.9 L505.0,99.2 L506.6,99.4 L508.2,99.6 L509.8,99.8 L511.4,100.1 L512.9,100.3 L514.5,100.5 L516.1,100.8 L517.7,101.0 L519.3,101.3 L520.8,101.5 L522.4,101.8 L524.0,102.1 L525.6,102.3 L527.2,102.6 L528.8,102.9 L530.4,103.2 L532.0,103.4 L533.6,103.7 L535.2,104.0 L536.8,104.3 L538.4,104.7 L540.0,105.0 L541.6,105.3 L543.2,105.6 L544.8,106.0 L546.4,106.3 L548.0,106.7 L549.7,107.0 L551.3,107.4 L552.9,107.7 L554.5,108.1 L556.2,108.5 L557.8,108.9 L559.4,109.3 L561.0,109.7 L562.7,110.2 L564.3,110.6 L565.9,111.1 L567.6,111.5 L569.2,112.0 L570.9,112.5 L572.5,113.0 L574.1,113.5 L575.8,114.0 L577.4,114.5 L579.1,115.1 L580.7,115.7 L582.3,116.2 L584.0,116.8 L585.6,117.4 L587.2,118.1 L588.9,118.7 L590.5,119.4 L592.1,120.0 L593.7,120.7 L595.3,121.4 L596.9,122.2 L598.5,122.9 L600.1,123.7 L601.7,124.5 L603.3,125.3 L604.9,126.1 L606.4,126.9 L608.0,127.8 L609.5,128.7 L611.1,129.6 L612.6,130.5 L614.1,131.4 L615.6,132.4 L617.1,133.4 L618.6,134.4 L620.1,135.4 L621.5,136.5 L623.0,137.5 L624.4,138.6 L625.8,139.7 L627.2,140.8 L628.6,142.0 L630.0,143.1 L631.3,144.3 L632.7,145.5 L634.0,146.8 L635.3,148.0 L636.6,149.3 L637.8,150.6 L639.1,151.9 L640.3,153.2 L641.5,154.5 L642.7,155.9 L643.9,157.2 L645.0,158.6 L646.2,160.0 L647.3,161.5 L648.4,162.9 L649.4,164.4 L650.5,165.8 L651.5,167.3 L652.5,168.8 L653.5,170.3 L654.5,171.9 L655.4,173.4 L656.3,175.0 L657.2,176.5 L658.1,178.1 L658.9,179.7 L659.8,181.3 L660.6,182.9 L661.4,184.5 L662.2,186.2 L662.9,187.8 L663.6,189.5 L664.3,191.1 L665.0,192.8 L665.7,194.5 L666.4,196.1 L667.0,197.8 L667.6,199.5 L668.2,201.2 L668.8,202.9 L669.3,204.6 L669.9,206.3 L670.4,208.1 L670.9,209.8 L671.4,211.5 L671.9,213.2 L672.3,215.0 L672.8,216.7 L673.2,218.5 L673.6,220.2 L674.0,221.9 L674.4,223.7 L674.8,225.4 L675.1,227.2 L675.5,228.9 L675.8,230.7 L676.1,232.4 L676.4,234.2 L676.7,235.9 L677.0,237.7 L677.3,239.5 L677.5,241.2 L677.8,243.0 L678.0,244.7 L678.2,246.5 L678.5,248.3 L678.7,250.0 L678.8,251.8 L679.0,253.5 L679.2,255.3 L679.4,257.1 L679.5,258.8 L679.7,260.6 L679.8,262.3 L679.9,264.1 L680.0,265.9 L680.1,267.6 L680.2,269.4 L680.3,271.2 L680.4,272.9 L680.5,274.7 L680.5,276.5 L680.6,278.2 L680.6,280.0 L680.6,281.8 L680.6,283.5 L680.6,285.3 L680.6,287.1 L680.6,288.8 L680.6,290.6 L680.5,292.4 L680.4,294.2 L680.4,295.9 L680.3,297.7 L680.2,299.5 L680.1,301.2 L679.9,303.0 L679.8,304.8 L679.6,306.5 L679.5,308.3 L679.3,310.1 L679.1,311.8 L678.9,313.6 L678.6,315.4 L678.4,317.1 L678.1,318.9 L677.8,320.7 L677.5,322.4 L677.2,324.2 L676.9,325.9 L676.5,327.7 L676.1,329.4 L675.7,331.1 L675.3,332.9 L674.9,334.6 L674.4,336.3 L673.9,338.0 L673.4,339.8 L672.9,341.5 L672.4,343.2 L671.8,344.9 L671.2,346.5 L670.6,348.2 L670.0,349.9 L669.4,351.5 L668.7,353.2 L668.0,354.8 L667.3,356.5 L666.6,358.1 L665.8,359.7 L665.0,361.3 L664.2,362.9 L663.4,364.5 L662.6,366.1 L661.7,367.6 L660.8,369.2 L659.9,370.7 L659.0,372.2 L658.1,373.7 L657.1,375.2 L656.1,376.7 L655.1,378.2 L654.1,379.6 L653.0,381.1 L652.0,382.5 L650.9,383.9 L649.8,385.3 L648.7,386.6 M624.4,409.5 L623.0,410.6 L621.6,411.6 L620.2,412.6 L618.7,413.6 L617.3,414.5 L615.9,415.5 L614.4,416.4 L612.9,417.3 L611.5,418.2 L610.0,419.1 L608.5,420.0 L607.1,420.8 L605.6,421.7 L604.1,422.5 L602.6,423.3 L601.1,424.1 L599.6,424.9 L598.1,425.7 L596.6,426.4 L595.1,427.2 L593.5,427.9 L592.0,428.6 L590.5,429.3 L589.0,430.0 L587.5,430.7 L586.0,431.3 L584.4,432.0 L582.9,432.6 L581.4,433.3 L579.9,433.9 L578.3,434.5 L576.8,435.1 L575.3,435.7 L573.8,436.3 L572.2,436.8 L570.7,437.4 L569.2,438.0 L567.7,438.5 L566.1,439.0 L564.6,439.5 L563.1,440.1 L561.6,440.6 L560.1,441.1 L558.5,441.6 L557.0,442.0 L555.5,442.5 L554.0,443.0 L552.5,443.4 L551.0,443.9 L549.5,444.3 L547.9,444.8 L546.4,445.2 L544.9,445.6 L543.4,446.0 L541.9,446.4 L540.4,446.8 L538.9,447.2 L537.4,447.6 L535.8,448.0 L534.3,448.4 L532.8,448.7 L531.3,449.1 L529.8,449.5 L528.3,449.8 L526.8,450.1 L525.3,450.5 L523.8,450.8 L522.3,451.1 L520.7,451.4 L519.2,451.8 L517.7,452.1 L516.2,452.4 L514.7,452.7 L513.2,452.9 L511.7,453.2 L510.2,453.5 L508.6,453.8 L507.1,454.0 L505.6,454.3 L504.1,454.5 L502.6,454.8 L501.0,455.0 L499.5,455.2 L498.0,455.4 L496.5,455.7 L494.9,455.9 L493.4,456.1 L491.9,456.3 L490.3,456.5 L488.8,456.7 L487.3,456.8 L485.7,457.0 L484.2,457.2 L482.6,457.4 L481.1,457.5 L479.6,457.7 L478.0,457.8 L476.4,458.0 L474.9,458.1 L473.3,458.2 L471.8,458.3 L470.2,458.5 L468.6,458.6 L467.1,458.7 L465.5,458.8 L463.9,458.9 L462.3,459.0 L460.8,459.1 L459.2,459.2 L457.6,459.2 L456.0,459.3 L454.4,459.4 L452.8,459.4 L451.2,459.5 L449.6,459.5 L447.9,459.6 L446.3,459.6 L444.7,459.7 L443.1,459.7 L441.4,459.7 L439.8,459.8 L438.1,459.8 L436.5,459.8 L434.8,459.8 L433.2,459.8 L431.5,459.8 L429.8,459.8 L428.1,459.8 L426.5,459.8 L424.8,459.7 L423.1,459.7 L421.4,459.7 L419.6,459.6 L417.9,459.6 L416.2,459.5 L414.5,459.5 L412.7,459.4 L411.0,459.3 L409.2,459.2 L407.4,459.1 L405.7,459.0 L403.9,458.9 L402.1,458.8 L400.3,458.7 L398.5,458.6 L396.7,458.5 L394.9,458.3 L393.0,458.2 L391.2,458.0 L389.3,457.8 L387.5,457.6 L385.6,457.4 L383.8,457.2 L381.9,457.0 L380.0,456.8 L378.1,456.5 L376.2,456.3 L374.3,456.0 L372.4,455.8 L370.5,455.5 L368.5,455.2 L366.6,454.8 L364.7,454.5 L362.7,454.2 L360.8,453.8 L358.8,453.4 L356.8,453.0 L354.9,452.6 L352.9,452.2 L350.9,451.7 L348.9,451.3 L346.9,450.8 L345.0,450.3 L343.0,449.8 L341.0,449.2 L339.0,448.7 L336.9,448.1 L334.9,447.5 L332.9,446.9 L330.9,446.2 L328.9,445.6 L326.9,444.9 L324.9,444.2 L322.9,443.5 L320.9,442.7 L318.9,441.9 L316.9,441.1 L314.9,440.3 L312.9,439.5 L310.9,438.6 L308.9,437.7 L306.9,436.8 L304.9,435.9 L302.9,434.9 L301.0,433.9 L299.0,432.9 L297.0,431.8 L295.1,430.8 L293.1,429.7 L291.2,428.6 L289.3,427.4 L287.4,426.3 L285.5,425.1 L283.6,423.8 L281.7,422.6 L279.9,421.3 L278.0,420.0 L276.2,418.7 L274.4,417.4 L272.5,416.0 L270.7,414.6 L269.0,413.2 L267.2,411.7 L265.5,410.2 L263.7,408.7 L262.0,407.2 L260.3,405.7 L258.6,404.1 L257.0,402.5 L255.4,400.9 L253.7,399.2 L252.1,397.6 L250.6,395.9 L249.0,394.2 L247.5,392.4 L245.9,390.7 L244.5,388.9 L243.0,387.1 L241.5,385.3 L240.1,383.4 L238.7,381.6 L237.3,379.7 L236.0,377.8 L234.6,375.9 L233.3,373.9 L232.1,372.0 L230.8,370.0 L229.6,368.0 L228.4,366.0 L227.2,363.9 L226.0,361.9 L224.9,359.8 L223.8,357.7 L222.7,355.6 L221.6,353.5 L220.6,351.4 L219.6,349.2 L218.6,347.1 L217.7,344.9 L216.8,342.7 L215.9,340.5 L215.0,338.3 L214.2,336.1 L213.4,333.8 L212.6,331.6 L211.9,329.3 L211.1,327.1 L210.4,324.8 L209.8,322.5 L209.1,320.2 L208.5,317.9 L207.9,315.6 L207.4,313.2 L206.9,310.9 L206.4,308.5 L205.9,306.2 L205.5,303.8 L205.1,301.5 L204.7,299.1" stroke="#00b3ff"/>
<path d="M227.2,258.1 L227.4,255.9 L227.7,253.7 L228.0,251.5 L228.3,249.3 L228.7,247.2 L229.1,245.0 L229.5,242.9 L229.9,240.7 L230.4,238.6 L230.9,236.4 L231.4,234.3 L232.0,232.2 L232.6,230.1 L233.2,228.0 L233.9,225.9 L234.5,223.8 L235.2,221.7 L236.0,219.7 L236.8,217.6 L237.6,215.6 L238.4,213.6 L239.3,211.5 L240.1,209.5 L241.1,207.6 L242.0,205.6 L243.0,203.6 L244.0,201.7 L245.0,199.8 L246.1,197.9 L247.1,196.0 L248.3,194.1 L249.4,192.2 L250.6,190.4 L251.7,188.6 L253.0,186.8 L254.2,185.0 L255.5,183.2 L256.7,181.5 L258.1,179.8 L259.4,178.1 L260.8,176.4 L262.1,174.7 L263.5,173.1 L265.0,171.5 L266.4,169.9 L267.9,168.3 L269.4,166.7 L270.9,165.2 L272.4,163.7 L274.0,162.2 L275.5,160.7 L277.1,159.3 L278.7,157.9 L280.3,156.5 L282.0,155.1 L283.6,153.8 L285.3,152.4 L286.9,151.1 L288.6,149.8 L290.3,148.6 L292.0,147.4 L293.8,146.1 L295.5,145.0 L297.3,143.8 L299.0,142.7 L300.8,141.5 L302.6,140.4 L304.3,139.4 L306.1,138.3 L307.9,137.3 L309.7,136.3 L311.6,135.3 L313.4,134.3 L315.2,133.4 L317.0,132.5 L318.8,131.6 L320.7,130.7 L322.5,129.9 L324.4,129.0 L326.2,128.2 L328.0,127.4 L329.9,126.6 L331.7,125.9 L333.6,125.1 L335.4,124.4 L337.3,123.7 L339.1,123.0 L341.0,122.3 L342.8,121.7 M389.4,109.8 L391.1,109.5 L392.9,109.2 L394.6,109.0 L396.3,108.7 L398.0,108.5 L399.7,108.2 L401.4,108.0 L403.1,107.8 L404.8,107.6 L406.5,107.4 L408.2,107.2 L409.8,107.0 L411.5,106.8 L413.2,106.7 L414.9,106.5 L416.5,106.4 L418.2,106.2 L419.8,106.1 L421.5,106.0 L423.1,105.9 L424.7,105.8 L426.4,105.7 L428.0,105.6 L429.6,105.5 L431.2,105.5 L432.9,105.4 L434.5,105.4 L436.1,105.4 L437.7,105.3 L439.3,105.3 L440.9,105.3 L442.5,105.3 L444.0,105.3 L445.6,105.4 L447.2,105.4 L448.8,105.4 L450.4,105.5 L451.9,105.5 L453.5,105.6 L455.0,105.7 L456.6,105.7 L458.2,105.8 L459.7,105.9 L461.2,106.0 L462.8,106.1 L464.3,106.3 L465.9,106.4 L467.4,106.5 L468.9,106.7 L470.4,106.8 L472.0,107.0 L473.5,107.1 L475.0,107.3 L476.5,107.5 L478.0,107.6 L479.5,107.8 L481.0,108.0 L482.5,108.2 L484.0,108.4 L485.5,108.6 L487.0,108.8 L488.5,109.1 L489.9,109.3 L491.4,109.5 L492.9,109.7 L494.4,110.0 L495.8,110.2 L497.3,110.4 L498.8,110.7 L500.3,110.9 L501.7,111.2 L503.2,111.4 L504.7,111.7 L506.1,112.0 L507.6,112.2 L509.0,112.5 L510.5,112.8 L512.0,113.1 L513.4,113.3 L514.9,113.6 L516.3,113.9 L517.8,114.2 L519.3,114.5 L520.7,114.8 L522.2,115.1 L523.7,115.4 L525.1,115.7 L526.6,116.0 L528.0,116.3 L529.5,116.6 L531.0,116.9 L532.5,117.3 L533.9,117.6 L535.4,117.9 L536.9,118.2 L538.4,118.6 L539.8,118.9 L541.3,119.3 L542.8,119.6 L544.3,120.0 L545.8,120.4 L547.2,120.7 L548.7,121.1 L550.2,121.5 L551.7,121.9 L553.2,122.3 L554.7,122.7 L556.2,123.1 L557.7,123.6 L559.2,124.0 L560.7,124.4 L562.2,124.9 L563.7,125.4 L565.2,125.8 L566.7,126.3 L568.2,126.8 L569.7,127.3 L571.2,127.9 L572.7,128.4 L574.2,128.9 L575.7,129.5 L577.2,130.1 L578.7,130.7 L580.2,131.3 L581.7,131.9 L583.2,132.5 L584.7,133.1 L586.2,133.8 L587.7,134.5 L589.1,135.2 L590.6,135.9 L592.1,136.6 L593.5,137.3 L595.0,138.1 L596.4,138.8 L597.9,139.6 L599.3,140.4 L600.8,141.3 L602.2,142.1 L603.6,142.9 L605.0,143.8 L606.4,144.7 L607.8,145.6 L609.1,146.5 L610.5,147.5 L611.9,148.4 L613.2,149.4 L614.5,150.4 L615.9,151.4 L617.2,152.5 L618.5,153.5 L619.8,154.6 L621.0,155.7 L622.3,156.8 L623.5,157.9 L624.8,159.0 L626.0,160.2 L627.2,161.3 L628.4,162.5 L629.5,163.7 L630.7,165.0 L631.8,166.2 L632.9,167.4 L634.0,168.7 L635.1,170.0 L636.2,171.3 L637.3,172.6 L638.3,173.9 L639.3,175.2 L640.3,176.6 L641.3,178.0 L642.3,179.3 L643.2,180.7 L644.2,182.1 L645.1,183.5 L646.0,185.0 L646.9,186.4 L647.7,187.9 L648.6,189.3 L649.4,190.8 L650.2,192.3 L651.0,193.8 L651.8,195.3 L652.5,196.8 L653.2,198.3 L654.0,199.8 L654.7,201.3 L655.4,202.9 L656.0,204.4 L656.7,206.0 L657.3,207.6 L657.9,209.1 L658.5,210.7 L659.1,212.3 L659.7,213.9 L660.2,215.5 L660.7,217.1 L661.2,218.7 L661.7,220.3 L662.2,221.9 L662.7,223.5 L663.1,225.2 L663.6,226.8 L664.0,228.4 L664.4,230.1 L664.8,231.7 L665.1,233.3 L665.5,235.0 L665.8,236.6 L666.1,238.3 L666.4,239.9 L666.7,241.6 L667.0,243.3 L667.3,244.9 L667.5,246.6 L667.7,248.2 L668.0,249.9 L668.2,251.6 L668.4,253.2 L668.5,254.9 L668.7,256.6 L668.8,258.3 L669.0,259.9 L669.1,261.6 L669.2,263.3 L669.3,264.9 L669.3,266.6 L669.4,268.3 L669.4,270.0 L669.5,271.6 L669.5,273.3 L669.5,275.0 L669.5,276.7 L669.5,278.3 L669.4,280.0 L669.4,281.7 L669.3,283.3 L669.2,285.0 L669.1,286.7 L669.0,288.3 L668.9,290.0 L668.7,291.7 L668.6,293.3 L668.4,295.0 L668.2,296.6 L668.0,298.3 L667.8,300.0 L667.6,301.6 L667.4,303.3 L667.1,304.9 L666.8,306.5 L666.6,308.2 L666.3,309.8 L665.9,311.5 L665.6,313.1 L665.3,314.7 L664.9,316.3 L664.5,318.0 L664.2,319.6 L663.7,321.2 L663.3,322.8 L662.9,324.4 L662.4,326.0 L662.0,327.6 L661.5,329.2 L661.0,330.8 L660.5,332.3 L660.0,333.9 L659.4,335.5 L658.9,337.0 L658.3,338.6 L657.7,340.1 L657.1,341.7 L656.5,343.2 L655.8,344.7 L655.2,346.2 L654.5,347.8 L653.8,349.3 L653.1,350.8 L652.4,352.3 L651.7,353.7 L651.0,355.2 L650.2,356.7 L649.4,358.1 L648.6,359.6 M630.9,385.1 L629.8,386.3 L628.7,387.5 L627.6,388.7 L626.5,389.9 L625.4,391.0 L624.2,392.2 L623.1,393.3 L621.9,394.5 L620.7,395.6 L619.6,396.7 L618.4,397.8 L617.2,398.8 L615.9,399.9 L614.7,400.9 L613.5,402.0 L612.2,403.0 L611.0,404.0 L609.7,405.0 L608.4,405.9 L607.1,406.9 L605.8,407.8 L604.5,408.7 L603.2,409.6 L601.9,410.5 L600.5,411.4 L599.2,412.3 L597.9,413.1 L596.5,413.9 L595.1,414.8 L593.8,415.6 L592.4,416.3 L591.0,417.1 L589.6,417.9 L588.3,418.6 L586.9,419.3 L585.5,420.0 L584.0,420.7 L582.6,421.4 L581.2,422.1 L579.8,422.7 L578.4,423.4 L577.0,424.0 L575.5,424.6 L574.1,425.2 L572.7,425.8 L571.2,426.3 L569.8,426.9 L568.3,427.4 L566.9,428.0 L565.5,428.5 L564.0,429.0 L562.6,429.5 L561.1,429.9 L559.7,430.4 L558.2,430.9 L556.8,431.3 L555.3,431.7 L553.9,432.2 L552.4,432.6 L551.0,433.0 L549.5,433.3 L548.1,433.7 L546.6,434.1 L545.2,434.5 L543.7,434.8 L542.3,435.1 L540.8,435.5 L539.4,435.8 L537.9,436.1 L536.5,436.4 L535.0,436.7 L533.6,437.0 L532.2,437.3 L530.7,437.6 L529.3,437.8 L527.9,438.1 L526.4,438.4 L525.0,438.6 L523.6,438.9 L522.1,439.1 L520.7,439.3 L519.3,439.6 L517.8,439.8 L516.4,440.0 L515.0,440.2 L513.6,440.4 L512.1,440.6 L510.7,440.8 L509.3,441.0 L507.9,441.2 L506.5,441.4 L505.0,441.6 L503.6,441.8 L502.2,441.9 L500.8,442.1 L499.4,442.3 L497.9,442.4 L496.5,442.6 L495.1,442.7 L493.7,442.9 L492.3,443.0 L490.8,443.2 L489.4,443.3 L488.0,443.5 L486.6,443.6 L485.1,443.8 L483.7,443.9 L482.3,444.0 L480.9,444.1 L479.4,444.3 L478.0,444.4 L476.6,444.5 L475.1,444.6 L473.7,444.7 L472.2,444.8 L470.8,444.9 L469.4,445.0 L467.9,445.1 L466.4,445.2 L465.0,445.3 L463.5,445.4 L462.1,445.4 L460.6,445.5 L459.1,445.6 L457.7,445.6 L456.2,445.7 L454.7,445.8 L453.2,445.8 L451.7,445.9 L450.2,445.9 L448.7,445.9 L447.2,446.0 L445.7,446.0 L444.2,446.0 L442.7,446.0 L441.2,446.0 L439.7,446.0 L438.1,446.0 L436.6,446.0 L435.1,446.0 L433.5,446.0 L432.0,446.0 L430.4,445.9 L428.9,445.9 L427.3,445.8 L425.7,445.8 L424.2,445.7 L422.6,445.7 L421.0,445.6 L419.4,445.5 L417.8,445.4 L416.2,445.3 L414.6,445.2 L413.0,445.1 L411.4,445.0 L409.7,444.8 L408.1,444.7 L406.5,444.5 L404.8,444.4 L403.2,444.2 L401.5,444.0 L399.9,443.8 L398.2,443.6 L396.5,443.4 L394.8,443.2 L393.2,443.0 L391.5,442.8 L389.8,442.5 L388.1,442.2 L386.4,442.0 L384.7,441.7 L382.9,441.4 L381.2,441.1 L379.5,440.8 L377.8,440.4 L376.0,440.1 L374.3,439.7 L372.5,439.3 L370.8,439.0 L369.0,438.6 L367.3,438.1 L365.5,437.7 L363.7,437.3 L362.0,436.8 L360.2,436.4 L358.4,435.9 L356.6,435.4 L354.8,434.8 L353.0,434.3 L351.3,433.8 L349.5,433.2 L347.7,432.6 L345.9,432.0 L344.1,431.4 L342.3,430.7 L340.5,430.1 L338.7,429.4 L336.9,428.7 L335.1,428.0 L333.3,427.3 L331.5,426.5 L329.7,425.8 L327.9,425.0 L326.1,424.2 L324.3,423.3 L322.5,422.5 L320.7,421.6 L318.9,420.7 L317.1,419.8 L315.4,418.9 L313.6,418.0 L311.8,417.0 L310.1,416.0 L308.3,415.0 L306.6,413.9 L304.8,412.9 L303.1,411.8 L301.4,410.7 L299.7,409.6 L298.0,408.4 L296.3,407.2 L294.6,406.0 L292.9,404.8 L291.3,403.6 L289.6,402.3 L288.0,401.1 L286.4,399.7 L284.8,398.4 L283.2,397.1 L281.6,395.7 L280.0,394.3 L278.5,392.9 L276.9,391.5 L275.4,390.0 L273.9,388.5 L272.4,387.0 L270.9,385.5 L269.5,384.0 L268.1,382.4 L266.6,380.8 L265.3,379.2 L263.9,377.6 L262.5,375.9 L261.2,374.3 L259.9,372.6 L258.6,370.9 L257.3,369.2 L256.1,367.4 L254.8,365.7 L253.6,363.9 L252.4,362.1 L251.3,360.3 L250.2,358.5 L249.0,356.6 L248.0,354.7 L246.9,352.9 L245.8,351.0 L244.8,349.1 L243.8,347.1 L242.9,345.2 L241.9,343.3 L241.0,341.3 L240.2,339.3 L239.3,337.3 L238.5,335.3 L237.7,333.3 L236.9,331.3 L236.1,329.2 L235.4,327.2 L234.7,325.1 L234.0,323.0 L233.4,320.9 L232.8,318.8 L232.2,316.7 L231.6,314.6 L231.1,312.5 L230.6,310.4 L230.1,308.2 L229.7,306.1 L229.2,304.0 L228.9,301.8 L228.5,299.6 L228.2,297.5 L227.9,295.3 L227.6,293.1 L227.3,290.9 L227.1,288.8" stroke="#1affe6"/>
<path d="M251.9,262.2 L252.1,260.2 L252.3,258.3 L252.6,256.3 L252.9,254.4 L253.2,252.4 L253.6,250.5 L254.0,248.5 L254.4,246.6 L254.8,244.6 L255.3,242.7 L255.8,240.8 L256.3,238.9 L256.8,237.0 L257.4,235.1 L258.0,233.2 L258.6,231.4 L259.3,229.5 L260.0,227.7 L260.7,225.8 L261.4,224.0 L262.2,222.2 L262.9,220.4 L263.7,218.6 L264.6,216.8 L265.4,215.0 L266.3,213.3 L267.2,211.5 L268.1,209.8 L269.1,208.1 M302.0,167.9 L303.5,166.7 L304.9,165.4 L306.4,164.2 L307.9,163.1 L309.4,161.9 L310.9,160.8 L312.4,159.7 L313.9,158.6 L315.4,157.5 L317.0,156.4 L318.5,155.4 L320.1,154.4 L321.6,153.4 L323.2,152.4 L324.8,151.4 L326.4,150.5 L328.0,149.6 L329.6,148.7 L331.2,147.8 L332.8,146.9 L334.4,146.1 L336.0,145.3 L337.7,144.5 L339.3,143.7 L340.9,142.9 L342.6,142.2 L344.2,141.4 L345.8,140.7 L347.5,140.0 L349.1,139.4 L350.8,138.7 L352.4,138.1 L354.1,137.4 L355.7,136.8 L357.4,136.2 L359.0,135.7 L360.7,135.1 L362.3,134.6 L364.0,134.0 L365.6,133.5 L367.3,133.0 L368.9,132.6 L370.5,132.1 L372.2,131.6 L373.8,131.2 L375.4,130.8 L377.1,130.4 L378.7,130.0 L380.3,129.6 L381.9,129.2 L383.6,128.9 L385.2,128.5 L386.8,128.2 L388.4,127.9 L390.0,127.6 L391.6,127.3 L393.2,127.0 L394.8,126.7 L396.3,126.4 L397.9,126.2 L399.5,125.9 L401.1,125.7 L402.6,125.5 L404.2,125.2 L405.7,125.0 L407.3,124.8 L408.8,124.6 L410.4,124.4 L411.9,124.3 L413.4,124.1 L414.9,123.9 L416.5,123.8 L418.0,123.6 L419.5,123.5 L421.0,123.4 L422.5,123.2 L424.0,123.1 L425.5,123.0 L427.0,122.9 L428.4,122.8 L429.9,122.7 L431.4,122.6 L432.8,122.5 L434.3,122.5 L435.8,122.4 L437.2,122.3 L438.7,122.3 L440.1,122.2 L441.6,122.2 L443.0,122.1 L444.4,122.1 L445.9,122.1 L447.3,122.1 L448.7,122.0 L450.1,122.0 L451.6,122.0 L453.0,122.0 L454.4,122.0 L455.8,122.0 L457.2,122.1 L458.6,122.1 L460.0,122.1 L461.4,122.1 L462.8,122.2 L464.2,122.2 L465.6,122.3 L467.0,122.3 L468.4,122.4 L469.7,122.5 L471.1,122.5 L472.5,122.6 L473.9,122.7 L475.3,122.8 L476.6,122.9 L478.0,123.0 L479.4,123.1 L480.7,123.2 L482.1,123.3 L483.5,123.5 L484.8,123.6 L486.2,123.7 L487.5,123.9 L488.9,124.0 L490.3,124.2 L491.6,124.4 L493.0,124.5 L494.3,124.7 L495.7,124.9 L497.0,125.0 L498.4,125.2 L499.7,125.4 L501.1,125.6 L502.4,125.8 L503.8,126.0 L505.1,126.3 L506.5,126.5 L507.8,126.7 L509.1,126.9 L510.5,127.2 L511.8,127.4 L513.2,127.6 L514.5,127.9 L515.9,128.2 L517.2,128.4 L518.5,128.7 L519.9,128.9 L521.2,129.2 L522.6,129.5 L523.9,129.8 L525.3,130.1 L526.6,130.4 L528.0,130.7 L529.3,131.0 L530.7,131.3 L532.0,131.6 L533.4,131.9 L534.7,132.2 L536.1,132.6 L537.4,132.9 L538.8,133.2 L540.2,133.6 L541.5,133.9 L542.9,134.3 L544.2,134.7 L545.6,135.0 L547.0,135.4 L548.3,135.8 L549.7,136.2 L551.1,136.6 L552.4,137.0 L553.8,137.4 L555.2,137.8 L556.6,138.2 L558.0,138.7 L559.3,139.1 L560.7,139.6 L562.1,140.1 L563.5,140.5 L564.8,141.0 L566.2,141.5 L567.6,142.0 L569.0,142.5 L570.4,143.1 L571.8,143.6 L573.1,144.1 L574.5,144.7 L575.9,145.3 L577.3,145.9 L578.6,146.5 L580.0,147.1 L581.4,147.7 L582.7,148.3 L584.1,149.0 L585.5,149.6 L586.8,150.3 L588.2,151.0 L589.5,151.7 L590.8,152.5 L592.2,153.2 L593.5,153.9 L594.8,154.7 L596.1,155.5 L597.4,156.3 L598.7,157.1 L600.0,158.0 L601.3,158.8 L602.6,159.7 L603.9,160.6 L605.1,161.5 L606.3,162.4 L607.6,163.3 L608.8,164.3 L610.0,165.2 L611.2,166.2 L612.4,167.2 L613.6,168.3 L614.7,169.3 L615.9,170.3 L617.0,171.4 L618.1,172.5 L619.2,173.6 L620.3,174.7 L621.4,175.8 L622.4,177.0 L623.5,178.2 L624.5,179.3 L625.5,180.5 L626.5,181.7 L627.4,183.0 L628.4,184.2 L629.3,185.4 L630.2,186.7 L631.2,188.0 L632.0,189.3 L632.9,190.6 L633.8,191.9 L634.6,193.2 L635.4,194.5 L636.2,195.9 L637.0,197.2 L637.7,198.6 L638.5,200.0 L639.2,201.4 L639.9,202.8 L640.6,204.2 L641.2,205.6 L641.9,207.0 L642.5,208.5 L643.2,209.9 L643.8,211.3 L644.3,212.8 L644.9,214.3 L645.5,215.7 L646.0,217.2 L646.5,218.7 L647.0,220.1 L647.5,221.6 L648.0,223.1 L648.4,224.6 L648.9,226.1 L649.3,227.6 L649.7,229.1 L650.1,230.6 L650.5,232.2 L650.9,233.7 L651.2,235.2 L651.6,236.7 L651.9,238.3 L652.2,239.8 L652.5,241.3 L652.8,242.8 L653.1,244.4 L653.4,245.9 L653.6,247.4 L653.9,249.0 L654.1,250.5 L654.3,252.1 L654.5,253.6 L654.7,255.2 L654.9,256.7 L655.1,258.3 L655.3,259.8 L655.4,261.4 L655.6,262.9 L655.7,264.5 L655.8,266.0 L656.0,267.6 L656.1,269.1 L656.2,270.7 L656.2,272.2 L656.3,273.8 L656.4,275.3 L656.4,276.9 L656.4,278.4 L656.5,280.0 L656.5,281.6 L656.5,283.1 L656.5,284.7 L656.4,286.2 L656.4,287.8 L656.4,289.3 L656.3,290.9 L656.2,292.5 L656.1,294.0 L656.0,295.6 M645.0,340.8 L644.4,342.2 L643.7,343.6 L643.0,345.0 L642.3,346.4 L641.6,347.7 L640.8,349.1 L640.0,350.5 L639.2,351.8 L638.4,353.1 L637.6,354.4 L636.8,355.7 L635.9,357.0 L635.0,358.3 L634.1,359.6 L633.2,360.8 L632.3,362.0 L631.3,363.3 L630.4,364.5 L629.4,365.7 L628.4,366.8 L627.4,368.0 L626.4,369.2 L625.4,370.3 L624.3,371.4 L623.3,372.5 L622.2,373.6 L621.1,374.7 L620.0,375.8 L618.9,376.8 L617.8,377.9 L616.6,378.9 L615.5,379.9 L614.3,380.9 L613.2,381.9 L612.0,382.8 L610.8,383.8 L609.7,384.7 L608.5,385.7 L607.3,386.6 L606.1,387.5 L604.9,388.3 L603.6,389.2 L602.4,390.1 L601.2,390.9 L600.0,391.8 L598.7,392.6 L597.5,393.4 L596.2,394.2 L595.0,395.0 L593.7,395.7 L592.5,396.5 L591.2,397.2 L590.0,398.0 L588.7,398.7 L587.4,399.4 L586.2,400.1 L584.9,400.8 L583.6,401.5 L582.4,402.2 L581.1,402.9 L579.8,403.5 L578.5,404.2 L577.3,404.8 L576.0,405.4 L574.7,406.0 L573.4,406.7 L572.2,407.3 L570.9,407.9 L569.6,408.4 L568.3,409.0 L567.1,409.6 L565.8,410.2 L564.5,410.7 L563.2,411.3 L562.0,411.8 L560.7,412.3 L559.4,412.8 L558.1,413.4 L556.9,413.9 L555.6,414.4 L554.3,414.9 L553.0,415.3 L551.7,415.8 L550.5,416.3 L549.2,416.8 L547.9,417.2 L546.6,417.7 L545.4,418.1 L544.1,418.5 L542.8,419.0 L541.5,419.4 L540.2,419.8 L539.0,420.2 L537.7,420.6 L536.4,421.0 L535.1,421.4 L533.8,421.7 L532.5,422.1 L531.3,422.4 L530.0,422.8 L528.7,423.1 L527.4,423.5 L526.1,423.8 L524.8,424.1 L523.5,424.4 L522.2,424.7 L521.0,425.0 L519.7,425.3 L518.4,425.6 L517.1,425.8 L515.8,426.1 L514.5,426.4 L513.2,426.6 L511.9,426.8 L510.6,427.1 L509.3,427.3 L508.0,427.5 L506.7,427.7 L505.4,427.9 L504.1,428.1 L502.8,428.3 L501.5,428.5 L500.2,428.6 L498.9,428.8 L497.6,429.0 L496.3,429.1 L495.0,429.3 L493.7,429.4 L492.4,429.5 L491.1,429.7 L489.8,429.8 L488.5,429.9 L487.2,430.0 L485.9,430.1 L484.6,430.2 L483.2,430.3 L481.9,430.4 L480.6,430.5 L479.3,430.5 L478.0,430.6 L476.7,430.7 L475.4,430.7 L474.1,430.8 L472.7,430.8 L471.4,430.9 L470.1,430.9 L468.8,431.0 L467.4,431.0 L466.1,431.0 L464.8,431.1 L463.5,431.1 L462.1,431.1 L460.8,431.1 L459.4,431.1 L458.1,431.2 L456.8,431.2 L455.4,431.2 L454.1,431.2 L452.7,431.1 L451.4,431.1 L450.0,431.1 L448.6,431.1 L447.3,431.1 L445.9,431.1 L444.5,431.0 L443.1,431.0 L441.8,431.0 L440.4,430.9 L439.0,430.9 L437.6,430.8 L436.2,430.8 L434.8,430.7 L433.4,430.7 L432.0,430.6 L430.5,430.5 L429.1,430.4 L427.7,430.3 L426.3,430.3 L424.8,430.2 L423.4,430.1 L421.9,429.9 L420.5,429.8 L419.0,429.7 L417.6,429.6 L416.1,429.4 L414.6,429.3 L413.2,429.1 L411.7,429.0 L410.2,428.8 L408.7,428.6 L407.2,428.4 L405.7,428.2 L404.2,428.0 L402.7,427.8 L401.2,427.6 L399.7,427.3 L398.1,427.1 L396.6,426.8 L395.1,426.6 L393.5,426.3 L392.0,426.0 L390.5,425.7 L388.9,425.4 L387.4,425.0 L385.8,424.7 L384.3,424.4 L382.7,424.0 L381.1,423.6 L379.6,423.2 L378.0,422.8 L376.4,422.4 L374.9,422.0 L373.3,421.5 L371.7,421.0 L370.1,420.6 L368.6,420.1 L367.0,419.6 L365.4,419.0 L363.8,418.5 L362.3,417.9 L360.7,417.4 L359.1,416.8 L357.5,416.2 L355.9,415.6 L354.4,414.9 L352.8,414.3 L351.2,413.6 L349.6,412.9 L348.0,412.2 L346.5,411.5 L344.9,410.8 L343.3,410.0 L341.8,409.3 L340.2,408.5 L338.6,407.7 L337.1,406.9 L335.5,406.0 L334.0,405.2 L332.4,404.3 L330.9,403.4 L329.4,402.5 L327.8,401.6 L326.3,400.7 L324.8,399.7 L323.3,398.7 L321.8,397.7 L320.3,396.7 L318.8,395.7 L317.3,394.7 L315.8,393.6 L314.3,392.5 L312.8,391.4 L311.4,390.3 L309.9,389.2 L308.5,388.0 L307.0,386.8 L305.6,385.6 L304.2,384.4 L302.8,383.2 L301.4,382.0 L300.0,380.7 L298.6,379.4 L297.3,378.1 L295.9,376.8 L294.6,375.5 L293.3,374.1 L292.0,372.8 L290.7,371.4 L289.4,370.0 L288.1,368.6 L286.8,367.1 L285.6,365.7 L284.4,364.2 L283.2,362.7 L282.0,361.2 L280.8,359.7 L279.6,358.1 L278.5,356.6 L277.4,355.0 L276.3,353.4 L275.2,351.8 L274.1,350.2 L273.1,348.6 L272.0,346.9 L271.0,345.3 L270.0,343.6 L269.1,341.9 L268.1,340.2 L267.2,338.5 L266.3,336.7 L265.4,335.0 L264.6,333.2 L263.7,331.4 L262.9,329.7 L262.2,327.9 L261.4,326.0 L260.7,324.2 L260.0,322.4 L259.3,320.5 L258.6,318.7 L258.0,316.8 L257.4,314.9 L256.8,313.1 L256.3,311.2 L255.7,309.3 L255.2,307.4" stroke="#80ff80"/>
<path d="M281.3,248.9 L281.7,247.2 L282.1,245.5 L282.5,243.8 L283.0,242.1 L283.4,240.4 L283.9,238.7 L284.4,237.1 L285.0,235.4 L285.5,233.8 L286.1,232.2 L286.8,230.5 L287.4,228.9 L288.1,227.3 L288.7,225.7 L289.5,224.1 L290.2,222.6 L290.9,221.0 L291.7,219.5 L292.5,217.9 L293.3,216.4 L294.2,214.9 L295.0,213.4 L295.9,211.9 L296.8,210.5 L297.8,209.0 L298.7,207.6 L299.7,206.1 L300.6,204.7 L301.7,203.3 L302.7,201.9 L303.7,200.6 L304.8,199.2 L305.8,197.9 L306.9,196.6 L308.0,195.3 L309.2,194.0 L310.3,192.7 L311.5,191.5 L312.6,190.2 L313.8,189.0 L315.0,187.8 L316.2,186.6 L317.5,185.4 L318.7,184.3 L320.0,183.1 L321.2,182.0 L322.5,180.9 L323.8,179.8 L325.1,178.8 L326.4,177.7 L327.7,176.7 L329.0,175.7 L330.4,174.7 L331.7,173.7 L333.1,172.8 L334.4,171.8 L335.8,170.9 L337.2,170.0 L338.6,169.1 L340.0,168.2 L341.4,167.4 L342.8,166.5 L344.2,165.7 L345.6,164.9 L347.0,164.1 L348.4,163.3 L349.9,162.6 L351.3,161.9 L352.7,161.1 L354.2,160.4 L355.6,159.7 L357.1,159.1 L358.5,158.4 L360.0,157.8 L361.4,157.1 L362.8,156.5 L364.3,155.9 L365.7,155.3 L367.2,154.8 L368.6,154.2 L370.1,153.7 L371.5,153.1 L373.0,152.6 L374.4,152.1 L375.9,151.6 L377.3,151.2 L378.8,150.7 L380.2,150.2 L381.7,149.8 L383.1,149.4 L384.5,149.0 L386.0,148.6 L387.4,148.2 L388.8,147.8 L390.3,147.4 L391.7,147.1 L393.1,146.7 L394.5,146.4 L395.9,146.1 L397.3,145.7 L398.7,145.4 L400.1,145.1 L401.5,144.8 L402.9,144.6 L404.3,144.3 L405.7,144.0 L407.1,143.8 L408.5,143.5 L409.8,143.3 L411.2,143.1 L412.6,142.8 L413.9,142.6 L415.3,142.4 L416.7,142.2 L418.0,142.0 L419.4,141.8 L420.7,141.7 L422.0,141.5 L423.4,141.3 L424.7,141.2 L426.0,141.0 L427.4,140.9 L428.7,140.7 L430.0,140.6 L431.3,140.4 L432.6,140.3 L433.9,140.2 L435.2,140.1 L436.5,140.0 L437.8,139.9 L439.1,139.8 L440.4,139.7 L441.7,139.6 L443.0,139.5 L444.3,139.5 L445.5,139.4 L446.8,139.3 L448.1,139.3 L449.4,139.2 L450.6,139.1 L451.9,139.1 L453.1,139.1 L454.4,139.0 L455.7,139.0 L456.9,139.0 L458.2,138.9 L459.4,138.9 L460.7,138.9 L461.9,138.9 L463.2,138.9 L464.4,138.9 L465.7,138.9 L466.9,138.9 L468.1,138.9 L469.4,139.0 L470.6,139.0 L471.8,139.0 L473.1,139.0 L474.3,139.1 L475.5,139.1 L476.8,139.2 L478.0,139.2 L479.2,139.3 L480.5,139.3 L481.7,139.4 L482.9,139.5 L484.1,139.6 L485.4,139.6 L486.6,139.7 L487.8,139.8 L489.0,139.9 L490.2,140.0 L491.5,140.1 L492.7,140.2 L493.9,140.3 L495.1,140.5 L496.4,140.6 L497.6,140.7 L498.8,140.8 L500.0,141.0 L501.2,141.1 L502.5,141.3 L503.7,141.4 L504.9,141.6 L506.1,141.8 L507.4,141.9 L508.6,142.1 L509.8,142.3 L511.0,142.5 L512.2,142.6 L513.5,142.8 L514.7,143.0 L515.9,143.2 L517.2,143.5 L518.4,143.7 L519.6,143.9 L520.8,144.1 L522.1,144.4 L523.3,144.6 L524.5,144.8 L525.8,145.1 L527.0,145.4 L528.2,145.6 L529.5,145.9 L530.7,146.2 L532.0,146.5 L533.2,146.7 L534.4,147.0 L535.7,147.3 L536.9,147.7 L538.2,148.0 L539.4,148.3 L540.7,148.6 L541.9,149.0 L543.1,149.3 L544.4,149.7 L545.6,150.1 L546.9,150.5 L548.1,150.8 L549.4,151.2 L550.6,151.6 L551.9,152.1 L553.1,152.5 L554.4,152.9 L555.6,153.4 L556.9,153.8 L558.1,154.3 L559.3,154.7 L560.6,155.2 L561.8,155.7 L563.1,156.2 L564.3,156.8 L565.5,157.3 L566.8,157.8 L568.0,158.4 L569.2,158.9 L570.4,159.5 L571.7,160.1 L572.9,160.7 L574.1,161.3 L575.3,162.0 L576.5,162.6 L577.7,163.3 L578.9,163.9 L580.1,164.6 L581.3,165.3 L582.5,166.0 L583.6,166.7 L584.8,167.5 L586.0,168.2 L587.1,169.0 L588.3,169.7 L589.4,170.5 L590.5,171.3 L591.6,172.2 L592.8,173.0 L593.9,173.8 L595.0,174.7 L596.0,175.6 L597.1,176.5 L598.2,177.4 L599.2,178.3 L600.3,179.2 L601.3,180.1 L602.3,181.1 L603.4,182.1 L604.4,183.0 L605.3,184.0 L606.3,185.1 L607.3,186.1 L608.2,187.1 L609.2,188.2 L610.1,189.2 L611.0,190.3 L611.9,191.4 L612.8,192.5 L613.7,193.6 L614.5,194.7 L615.4,195.8 L616.2,197.0 L617.0,198.1 L617.8,199.3 L618.6,200.5 L619.4,201.6 L620.1,202.8 L620.9,204.0 L621.6,205.2 L622.3,206.5 L623.0,207.7 L623.7,208.9 L624.4,210.2 L625.0,211.4 L625.7,212.7 L626.3,214.0 L626.9,215.3 L627.5,216.5 L628.1,217.8 L628.6,219.1 L629.2,220.4 L629.7,221.8 L630.2,223.1 L630.7,224.4 L631.2,225.7 L631.7,227.1 L632.2,228.4 L632.6,229.8 L633.1,231.1 L633.5,232.5 L633.9,233.8 L634.3,235.2 L634.7,236.6 L635.0,237.9 L635.4,239.3 L635.7,240.7 L636.1,242.1 L636.4,243.4 L636.7,244.8 L637.0,246.2 L637.2,247.6 L637.5,249.0 L637.8,250.4 L638.0,251.8 L638.2,253.2 L638.4,254.6 L638.6,256.0 L638.8,257.4 L639.0,258.8 L639.2,260.2 L639.3,261.6 M637.6,305.3 L637.3,306.7 L637.1,308.0 L636.8,309.4 L636.4,310.8 L636.1,312.2 L635.7,313.5 L635.4,314.9 L635.0,316.2 L634.6,317.6 L634.2,318.9 L633.8,320.3 L633.3,321.6 L632.9,322.9 L632.4,324.3 L631.9,325.6 L631.4,326.9 L630.9,328.2 L630.3,329.5 L629.8,330.8 L629.2,332.1 L628.6,333.3 L628.0,334.6 L627.4,335.9 L626.8,337.1 L626.1,338.3 L625.4,339.6 L624.8,340.8 L624.1,342.0 L623.4,343.2 L622.6,344.4 L621.9,345.6 L621.1,346.7 L620.4,347.9 L619.6,349.1 L618.8,350.2 L618.0,351.3 L617.2,352.4 L616.3,353.5 L615.5,354.6 L614.6,355.7 L613.7,356.8 L612.8,357.9 L611.9,358.9 L611.0,359.9 L610.1,361.0 L609.2,362.0 L608.2,363.0 L607.3,364.0 L606.3,364.9 L605.3,365.9 L604.3,366.8 L603.4,367.8 L602.4,368.7 L601.3,369.6 L600.3,370.5 L599.3,371.4 L598.3,372.3 L597.2,373.1 L596.2,374.0 L595.1,374.8 L594.0,375.6 L593.0,376.5 L591.9,377.3 L590.8,378.1 L589.7,378.8 L588.6,379.6 L587.5,380.4 L586.4,381.1 L585.3,381.8 L584.2,382.6 L583.1,383.3 L582.0,384.0 L580.8,384.7 L579.7,385.3 L578.6,386.0 L577.5,386.7 L576.3,387.3 L575.2,387.9 L574.1,388.6 L572.9,389.2 L571.8,389.8 L570.6,390.4 L569.5,391.0 L568.4,391.6 L567.2,392.1 L566.1,392.7 L564.9,393.3 L563.8,393.8 L562.6,394.3 L561.5,394.9 L560.3,395.4 L559.2,395.9 L558.0,396.4 L556.9,396.9 L555.7,397.4 L554.6,397.9 L553.4,398.4 L552.2,398.8 L551.1,399.3 L549.9,399.7 L548.8,400.2 L547.6,400.6 L546.5,401.0 L545.3,401.5 L544.2,401.9 L543.0,402.3 L541.9,402.7 L540.7,403.1 L539.6,403.5 L538.4,403.8 L537.2,404.2 L536.1,404.6 L534.9,404.9 L533.8,405.3 L532.6,405.6 L531.5,406.0 L530.3,406.3 L529.2,406.6 L528.0,406.9 L526.8,407.2 L525.7,407.6 L524.5,407.8 L523.4,408.1 L522.2,408.4 L521.1,408.7 L519.9,409.0 L518.7,409.2 L517.6,409.5 L516.4,409.7 L515.3,410.0 L514.1,410.2 L513.0,410.4 L511.8,410.7 L510.6,410.9 L509.5,411.1 L508.3,411.3 L507.1,411.5 L506.0,411.7 L504.8,411.9 L503.7,412.0 L502.5,412.2 L501.3,412.4 L500.2,412.5 L499.0,412.7 L497.8,412.8 L496.7,412.9 L495.5,413.1 L494.4,413.2 L493.2,413.3 L492.0,413.4 L490.9,413.5 L489.7,413.6 L488.5,413.7 L487.4,413.8 L486.2,413.9 L485.0,414.0 L483.9,414.0 L482.7,414.1 L481.5,414.1 L480.3,414.2 L479.2,414.2 L478.0,414.3 L476.8,414.3 L475.7,414.4 L474.5,414.4 L473.3,414.4 L472.1,414.4 L471.0,414.4 L469.8,414.4 L468.6,414.5 L467.4,414.5 L466.2,414.4 L465.1,414.4 L463.9,414.4 L462.7,414.4 L461.5,414.4 L460.3,414.4 L459.1,414.3 L457.9,414.3 L456.7,414.3 L455.5,414.2 L454.3,414.2 L453.1,414.1 L451.9,414.1 L450.7,414.0 L449.5,413.9 L448.3,413.9 L447.1,413.8 L445.9,413.7 L444.7,413.7 L443.5,413.6 L442.2,413.5 L441.0,413.4 L439.8,413.3 L438.5,413.2 L437.3,413.1 L436.1,413.0 L434.8,412.9 L433.6,412.8 L432.3,412.6 L431.1,412.5 L429.8,412.4 L428.6,412.2 L427.3,412.1 L426.0,412.0 L424.7,411.8 L423.5,411.6 L422.2,411.5 L420.9,411.3 L419.6,411.1 L418.3,410.9 L417.0,410.7 L415.7,410.5 L414.4,410.3 L413.1,410.1 L411.8,409.9 L410.5,409.7 L409.2,409.4 L407.9,409.2 L406.5,408.9 L405.2,408.7 L403.9,408.4 L402.5,408.1 L401.2,407.8 L399.9,407.5 L398.5,407.2 L397.2,406.9 L395.8,406.6 L394.5,406.2 L393.1,405.9 L391.7,405.5 L390.4,405.1 L389.0,404.8 L387.6,404.4 L386.3,404.0 L384.9,403.5 L383.5,403.1 L382.2,402.7 L380.8,402.2 L379.4,401.7 L378.0,401.3 L376.7,400.8 L375.3,400.3 L373.9,399.8 L372.5,399.2 L371.1,398.7 L369.8,398.1 L368.4,397.5 L367.0,397.0 L365.6,396.4 L364.3,395.7 L362.9,395.1 L361.5,394.5 L360.2,393.8 L358.8,393.1 L357.4,392.4 L356.1,391.7 L354.7,391.0 L353.4,390.3 L352.0,389.5 L350.6,388.8 L349.3,388.0 L348.0,387.2 L346.6,386.4 L345.3,385.6 L344.0,384.7 L342.6,383.9 L341.3,383.0 L340.0,382.1 L338.7,381.2 L337.4,380.3 L336.1,379.3 L334.8,378.4 L333.6,377.4 L332.3,376.4 L331.0,375.4 L329.8,374.4 L328.5,373.4 L327.3,372.4 L326.1,371.3 L324.8,370.2 L323.6,369.1 L322.4,368.0 L321.2,366.9 L320.1,365.8 L318.9,364.6 L317.7,363.4 L316.6,362.2 L315.4,361.0 L314.3,359.8 L313.2,358.6 L312.1,357.4 L311.0,356.1 L309.9,354.8 L308.9,353.5 L307.8,352.2 L306.8,350.9 L305.8,349.6 L304.8,348.2 L303.8,346.9 L302.8,345.5 L301.8,344.1 L300.9,342.7 L299.9,341.3 L299.0,339.9 L298.1,338.4 L297.2,337.0 L296.4,335.5 L295.5,334.0 L294.7,332.6 L293.9,331.1 L293.1,329.5 L292.3,328.0 L291.6,326.5 L290.8,324.9 L290.1,323.4 L289.4,321.8 L288.7,320.2 L288.1,318.6 L287.4,317.0 L286.8,315.4 L286.2,313.8 L285.7,312.2 L285.1,310.6 L284.6,308.9 L284.1,307.3 L283.6,305.6 L283.1,303.9 L282.7,302.3 L282.3,300.6 L281.9,298.9 L281.5,297.2 L281.2,295.5 L280.8,293.8" stroke="#e6ff1a"/>
<path d="M308.6,269.6 L308.7,268.2 L308.8,266.7 L309.0,265.2 L309.1,263.7 L309.3,262.3 L309.5,260.8 L309.8,259.3 L310.0,257.9 L310.3,256.4 L310.6,255.0 L311.0,253.5 L311.3,252.1 L311.7,250.7 L312.1,249.3 L312.5,247.8 L313.0,246.4 L313.4,245.0 L313.9,243.6 L314.4,242.2 L314.9,240.8 L315.5,239.5 L316.0,238.1 L316.6,236.8 L317.2,235.4 L317.8,234.1 L318.5,232.7 L319.1,231.4 L319.8,230.1 L320.5,228.8 L321.2,227.5 L322.0,226.3 L322.7,225.0 L323.5,223.8 L324.3,222.5 L325.1,221.3 L325.9,220.1 L326.7,218.9 L327.6,217.7 L328.4,216.5 L329.3,215.3 L330.2,214.2 L331.1,213.1 L332.0,211.9 L333.0,210.8 L333.9,209.7 L334.9,208.6 L335.8,207.6 L336.8,206.5 L337.8,205.5 L338.8,204.4 L339.8,203.4 L340.9,202.4 L341.9,201.4 L343.0,200.5 L344.0,199.5 L345.1,198.5 L346.2,197.6 L347.2,196.7 L348.3,195.8 L349.4,194.9 L350.5,194.0 L351.7,193.2 L352.8,192.3 L353.9,191.5 L355.0,190.7 L356.2,189.9 L357.3,189.1 L358.5,188.3 L359.6,187.5 L360.8,186.8 L361.9,186.0 L363.1,185.3 L364.3,184.6 L365.5,183.9 L366.6,183.2 L367.8,182.5 L369.0,181.9 L370.2,181.2 L371.4,180.6 L372.6,179.9 L373.7,179.3 L374.9,178.7 L376.1,178.1 L377.3,177.5 L378.5,177.0 L379.7,176.4 L380.9,175.9 L382.1,175.3 L383.3,174.8 L384.5,174.3 L385.7,173.8 L386.9,173.3 L388.1,172.8 L389.3,172.3 L390.4,171.9 L391.6,171.4 L392.8,171.0 L394.0,170.5 L395.2,170.1 L396.4,169.7 L397.6,169.3 L398.7,168.9 L399.9,168.5 L401.1,168.1 L402.3,167.7 L403.4,167.4 L404.6,167.0 L405.8,166.6 L406.9,166.3 L408.1,166.0 L409.3,165.6 L410.4,165.3 L411.6,165.0 L412.7,164.7 L413.9,164.4 L415.1,164.1 L416.2,163.8 L417.3,163.5 L418.5,163.2 L419.6,162.9 L420.8,162.7 L421.9,162.4 L423.1,162.2 L424.2,161.9 L425.3,161.7 L426.4,161.4 L427.6,161.2 L428.7,161.0 L429.8,160.8 L430.9,160.6 L432.1,160.4 L433.2,160.1 L434.3,160.0 L435.4,159.8 L436.5,159.6 L437.6,159.4 L438.8,159.2 L439.9,159.1 L441.0,158.9 L442.1,158.7 L443.2,158.6 L444.3,158.4 L445.4,158.3 L446.5,158.2 L447.6,158.0 L448.7,157.9 L449.8,157.8 L450.9,157.7 L452.0,157.6 L453.1,157.5 L454.2,157.4 L455.3,157.3 L456.3,157.2 L457.4,157.1 L458.5,157.0 L459.6,157.0 L460.7,156.9 L461.8,156.9 L462.9,156.8 L464.0,156.8 L465.0,156.7 L466.1,156.7 L467.2,156.6 L468.3,156.6 L469.4,156.6 L470.5,156.6 L471.5,156.6 L472.6,156.6 L473.7,156.6 L474.8,156.6 L475.8,156.6 L476.9,156.6 L478.0,156.6 L479.1,156.7 L480.2,156.7 L481.2,156.8 L482.3,156.8 L483.4,156.9 L484.5,156.9 L485.5,157.0 L486.6,157.0 L487.7,157.1 L488.7,157.2 L489.8,157.3 L490.9,157.4 L492.0,157.5 L493.0,157.6 L494.1,157.7 L495.2,157.8 L496.2,157.9 L497.3,158.0 L498.4,158.2 L499.5,158.3 L500.5,158.4 L501.6,158.6 L502.7,158.7 L503.7,158.9 L504.8,159.0 L505.9,159.2 L507.0,159.4 L508.0,159.6 L509.1,159.7 L510.2,159.9 L511.2,160.1 L512.3,160.3 L513.4,160.5 L514.5,160.7 L515.5,161.0 L516.6,161.2 L517.7,161.4 L518.8,161.6 L519.8,161.9 L520.9,162.1 L522.0,162.4 L523.0,162.7 L524.1,162.9 L525.2,163.2 L526.3,163.5 L527.3,163.8 L528.4,164.1 L529.5,164.4 L530.6,164.7 L531.6,165.0 L532.7,165.3 L533.8,165.6 L534.9,166.0 L535.9,166.3 L537.0,166.7 L538.1,167.0 L539.1,167.4 L540.2,167.8 L541.3,168.1 L542.4,168.5 L543.4,168.9 L544.5,169.3 L545.6,169.7 L546.6,170.2 L547.7,170.6 L548.8,171.0 L549.8,171.5 L550.9,172.0 L551.9,172.4 L553.0,172.9 L554.0,173.4 L555.1,173.9 L556.1,174.4 L557.2,174.9 L558.2,175.4 L559.3,176.0 L560.3,176.5 L561.3,177.1 L562.4,177.6 L563.4,178.2 L564.4,178.8 L565.4,179.4 L566.5,180.0 L567.5,180.6 L568.5,181.3 L569.5,181.9 L570.5,182.6 L571.5,183.2 L572.4,183.9 L573.4,184.6 L574.4,185.3 L575.4,186.0 L576.3,186.7 L577.3,187.4 L578.2,188.2 L579.2,188.9 L580.1,189.7 L581.0,190.4 L582.0,191.2 L582.9,192.0 M612.5,232.4 L613.0,233.5 L613.5,234.7 L614.0,235.8 L614.5,237.0 L614.9,238.1 L615.4,239.3 L615.8,240.5 L616.2,241.7 L616.6,242.9 L617.0,244.0 L617.4,245.2 L617.8,246.4 L618.2,247.6 L618.5,248.8 L618.9,250.1 L619.2,251.3 L619.5,252.5 L619.8,253.7 L620.1,254.9 L620.4,256.2 L620.7,257.4 L620.9,258.6 L621.2,259.9 L621.4,261.1 L621.6,262.4 L621.8,263.6 L622.0,264.9 L622.2,266.1 L622.4,267.4 L622.5,268.6 L622.7,269.9 L622.8,271.1 L622.9,272.4 L623.0,273.7 L623.1,274.9 L623.2,276.2 L623.2,277.5 L623.3,278.7 L623.3,280.0 L623.3,281.3 L623.3,282.5 L623.3,283.8 L623.3,285.1 L623.2,286.3 L623.2,287.6 L623.1,288.9 L623.0,290.1 L622.9,291.4 L622.8,292.7 L622.7,293.9 L622.5,295.2 L622.3,296.4 L622.2,297.7 L622.0,299.0 L621.7,300.2 L621.5,301.4 L621.3,302.7 L621.0,303.9 L620.7,305.2 L620.4,306.4 L620.1,307.6 L619.8,308.9 L619.5,310.1 L619.1,311.3 L618.8,312.5 L618.4,313.7 L618.0,314.9 L617.5,316.1 L617.1,317.3 L616.7,318.5 L616.2,319.6 L615.7,320.8 L615.2,321.9 L614.7,323.1 L614.2,324.2 L613.6,325.4 L613.1,326.5 L612.5,327.6 L611.9,328.7 L611.3,329.8 L610.7,330.9 L610.1,332.0 L609.4,333.1 L608.8,334.2 L608.1,335.2 L607.4,336.3 L606.7,337.3 L606.0,338.3 L605.3,339.4 L604.6,340.4 L603.8,341.4 L603.1,342.3 L602.3,343.3 L601.5,344.3 L600.7,345.2 L599.9,346.2 L599.1,347.1 L598.3,348.0 L597.4,349.0 L596.6,349.9 L595.7,350.7 L594.9,351.6 L594.0,352.5 L593.1,353.3 L592.2,354.2 L591.4,355.0 L590.4,355.8 L589.5,356.7 L588.6,357.5 L587.7,358.2 L586.8,359.0 L585.8,359.8 L584.9,360.5 L583.9,361.3 L583.0,362.0 L582.0,362.8 L581.1,363.5 L580.1,364.2 L579.1,364.9 L578.2,365.5 L577.2,366.2 L576.2,366.9 L575.2,367.5 L574.2,368.2 L573.2,368.8 L572.2,369.4 L571.2,370.0 L570.2,370.6 L569.2,371.2 L568.2,371.8 L567.2,372.4 L566.2,373.0 L565.2,373.5 L564.2,374.1 L563.2,374.6 L562.2,375.1 L561.2,375.7 L560.1,376.2 L559.1,376.7 L558.1,377.2 L557.1,377.7 L556.1,378.2 L555.1,378.6 L554.1,379.1 L553.0,379.6 L552.0,380.0 L551.0,380.5 L550.0,380.9 L549.0,381.4 L548.0,381.8 L546.9,382.2 L545.9,382.6 L544.9,383.0 L543.9,383.4 L542.9,383.8 L541.9,384.2 L540.9,384.6 L539.8,385.0 L538.8,385.4 L537.8,385.7 L536.8,386.1 L535.8,386.4 L534.8,386.8 L533.8,387.1 L532.8,387.5 L531.7,387.8 L530.7,388.1 L529.7,388.4 L528.7,388.7 L527.7,389.1 L526.7,389.4 L525.7,389.7 L524.7,389.9 L523.7,390.2 L522.6,390.5 L521.6,390.8 L520.6,391.1 L519.6,391.3 L518.6,391.6 L517.6,391.8 L516.6,392.1 L515.6,392.3 L514.6,392.5 L513.6,392.8 L512.5,393.0 L511.5,393.2 L510.5,393.4 L509.5,393.6 L508.5,393.8 L507.5,394.0 L506.5,394.2 L505.5,394.4 L504.5,394.6 L503.4,394.8 L502.4,394.9 L501.4,395.1 L500.4,395.2 L499.4,395.4 L498.4,395.5 L497.4,395.7 L496.3,395.8 L495.3,395.9 L494.3,396.1 L493.3,396.2 L492.3,396.3 L491.3,396.4 L490.2,396.5 L489.2,396.6 L488.2,396.7 L487.2,396.7 L486.2,396.8 L485.1,396.9 L484.1,397.0 L483.1,397.0 L482.1,397.1 L481.1,397.1 L480.0,397.2 L479.0,397.2 L478.0,397.2 L477.0,397.2 L476.0,397.3 L474.9,397.3 L473.9,397.3 L472.9,397.3 L471.9,397.3 L470.8,397.3 L469.8,397.3 L468.8,397.2 L467.7,397.2 L466.7,397.2 L465.7,397.1 L464.7,397.1 L463.6,397.1 L462.6,397.0 L461.6,396.9 L460.5,396.9 L459.5,396.8 L458.5,396.7 L457.4,396.7 L456.4,396.6 L455.4,396.5 L454.3,396.4 L453.3,396.3 L452.2,396.2 L451.2,396.1 L450.2,396.0 L449.1,395.9 L448.1,395.7 L447.0,395.6 L446.0,395.5 L444.9,395.3 L443.9,395.2 L442.8,395.1 L441.8,394.9 L440.7,394.7 L439.7,394.6 L438.6,394.4 L437.5,394.2 L436.5,394.1 L435.4,393.9 L434.4,393.7 L433.3,393.5 L432.2,393.3 L431.2,393.1 L430.1,392.9 L429.0,392.7 L427.9,392.4 L426.9,392.2 L425.8,392.0 L424.7,391.8 L423.6,391.5 L422.5,391.3 L421.4,391.0 L420.3,390.7 L419.3,390.5 L418.2,390.2 L417.1,389.9 L416.0,389.6 L414.9,389.4 L413.8,389.1 L412.7,388.8 L411.5,388.4 L410.4,388.1 L409.3,387.8 L408.2,387.5 L407.1,387.1 L406.0,386.8 L404.9,386.4 L403.7,386.1 L402.6,385.7 L401.5,385.3 L400.3,384.9 L399.2,384.6 L398.1,384.1 L396.9,383.7 L395.8,383.3 L394.7,382.9 L393.5,382.5 L392.4,382.0 L391.3,381.6 L390.1,381.1 L389.0,380.6 L387.8,380.2 L386.7,379.7 L385.5,379.2 L384.4,378.7 L383.2,378.1 L382.1,377.6 L380.9,377.1 L379.8,376.5 L378.6,376.0 L377.5,375.4 L376.3,374.8 L375.2,374.2 L374.0,373.6 L372.9,373.0 L371.7,372.4 L370.6,371.7 L369.4,371.1 L368.3,370.4 L367.2,369.8 L366.0,369.1 L364.9,368.4 L363.8,367.7 L362.6,366.9 L361.5,366.2 L360.4,365.5 L359.3,364.7 L358.1,363.9 L357.0,363.1 L355.9,362.3 L354.8,361.5 L353.7,360.7 L352.6,359.9 L351.5,359.0 L350.5,358.2 L349.4,357.3 L348.3,356.4 L347.3,355.5 L346.2,354.6 L345.2,353.6 L344.1,352.7 L343.1,351.7 L342.1,350.8 L341.1,349.8 L340.0,348.8 L339.1,347.8 L338.1,346.7 L337.1,345.7 L336.1,344.7 L335.2,343.6 L334.2,342.5 L333.3,341.4 L332.4,340.3 L331.5,339.2 L330.6,338.1 L329.7,336.9 L328.8,335.8 L328.0,334.6 L327.2,333.4 L326.3,332.2 L325.5,331.0 L324.7,329.8 L323.9,328.6 L323.2,327.3 L322.4,326.1 L321.7,324.8 L321.0,323.5 L320.3,322.3 L319.6,321.0 L318.9,319.7 L318.3,318.3 L317.7,317.0 L317.1,315.7 L316.5,314.3" stroke="#ffb300"/>
<path d="M346.5,255.6 L346.8,254.5 L347.1,253.4 L347.4,252.2 L347.7,251.1 L348.0,250.0 L348.4,248.9 L348.7,247.8 L349.1,246.7 L349.5,245.6 L349.9,244.5 L350.3,243.4 L350.8,242.3 L351.2,241.2 L351.7,240.2 L352.2,239.1 L352.6,238.1 L353.2,237.0 L353.7,236.0 L354.2,234.9 L354.8,233.9 L355.3,232.9 L355.9,231.9 L356.5,230.9 L357.1,229.9 L357.7,228.9 L358.3,228.0 L359.0,227.0 L359.6,226.1 L360.3,225.1 L361.0,224.2 L361.7,223.3 L362.4,222.3 L363.1,221.4 L363.8,220.5 L364.5,219.7 L365.3,218.8 L366.0,217.9 L366.8,217.1 L367.6,216.2 L368.3,215.4 L369.1,214.6 L369.9,213.8 L370.8,213.0 L371.6,212.2 L372.4,211.4 L373.3,210.7 L374.1,209.9 L375.0,209.2 L375.8,208.5 L376.7,207.7 L377.6,207.0 L378.5,206.3 L379.4,205.7 L380.3,205.0 L381.2,204.3 L382.1,203.7 L383.0,203.1 L383.9,202.4 L384.8,201.8 L385.8,201.2 L386.7,200.6 L387.6,200.1 L388.6,199.5 L389.5,198.9 L390.5,198.4 L391.4,197.9 L392.4,197.3 L393.4,196.8 L394.3,196.3 L395.3,195.9 L396.3,195.4 L397.3,194.9 L398.2,194.5 L399.2,194.0 L400.2,193.6 L401.2,193.1 L402.1,192.7 L403.1,192.3 L404.1,191.9 L405.1,191.5 L406.1,191.2 L407.1,190.8 L408.0,190.4 L409.0,190.1 L410.0,189.8 L411.0,189.4 L412.0,189.1 L412.9,188.8 L413.9,188.5 L414.9,188.2 L415.9,187.9 L416.9,187.6 L417.8,187.3 L418.8,187.1 L419.8,186.8 L420.7,186.6 L421.7,186.3 L422.7,186.1 L423.6,185.8 L424.6,185.6 L425.5,185.4 L426.5,185.2 L427.5,184.9 L428.4,184.7 L429.4,184.5 L430.3,184.3 L431.2,184.1 L432.2,184.0 L433.1,183.8 L434.1,183.6 L435.0,183.4 L435.9,183.2 L436.9,183.1 L437.8,182.9 L438.7,182.8 L439.6,182.6 L440.6,182.4 L441.5,182.3 L442.4,182.1 L443.3,182.0 L444.2,181.8 L445.1,181.7 L446.0,181.6 L446.9,181.4 L447.8,181.3 L448.7,181.2 L449.6,181.0 L450.5,180.9 L451.4,180.8 L452.3,180.7 L453.2,180.5 L454.1,180.4 L455.0,180.3 L455.9,180.2 L456.8,180.1 L457.6,179.9 L458.5,179.8 L459.4,179.7 L460.3,179.6 L461.2,179.5 L462.1,179.4 L462.9,179.3 L463.8,179.2 L464.7,179.1 L465.6,179.0 L466.5,178.9 L467.4,178.8 L468.2,178.7 L469.1,178.6 L470.0,178.6 L470.9,178.5 L471.8,178.4 L472.7,178.3 M541.1,191.6 L541.9,192.0 L542.8,192.5 L543.6,192.9 L544.4,193.4 L545.3,193.9 L546.1,194.4 L547.0,194.9 L547.8,195.3 L548.6,195.8 L549.5,196.3 L550.3,196.8 L551.1,197.4 L551.9,197.9 L552.8,198.4 L553.6,198.9 L554.4,199.5 L555.2,200.0 L556.1,200.6 L556.9,201.1 L557.7,201.7 L558.5,202.3 L559.3,202.8 L560.1,203.4 L560.9,204.0 L561.7,204.6 L562.5,205.2 L563.3,205.8 L564.1,206.4 L564.9,207.1 L565.7,207.7 L566.5,208.3 L567.3,209.0 L568.1,209.6 L568.9,210.3 L569.6,210.9 L570.4,211.6 L571.2,212.3 L571.9,213.0 L572.7,213.7 L573.5,214.4 L574.2,215.1 L574.9,215.8 L575.7,216.6 L576.4,217.3 L577.1,218.0 L577.9,218.8 L578.6,219.6 L579.3,220.3 L580.0,221.1 L580.7,221.9 L581.3,222.7 L582.0,223.5 L582.7,224.3 L583.3,225.2 L584.0,226.0 L584.6,226.8 L585.3,227.7 L585.9,228.5 L586.5,229.4 L587.1,230.3 L587.7,231.2 L588.2,232.1 L588.8,233.0 L589.4,233.9 L589.9,234.8 L590.4,235.7 L591.0,236.6 L591.5,237.6 L592.0,238.5 L592.4,239.5 L592.9,240.4 L593.4,241.4 L593.8,242.4 L594.2,243.3 L594.7,244.3 L595.1,245.3 L595.5,246.3 L595.8,247.3 L596.2,248.3 L596.5,249.3 L596.9,250.4 L597.2,251.4 L597.5,252.4 L597.8,253.4 L598.1,254.5 L598.3,255.5 L598.6,256.6 L598.8,257.6 L599.1,258.7 L599.3,259.7 L599.5,260.8 L599.6,261.8 L599.8,262.9 L599.9,263.9 L600.1,265.0 L600.2,266.1 L600.3,267.1 L600.4,268.2 L600.5,269.3 L600.6,270.4 L600.6,271.4 L600.7,272.5 L600.7,273.6 L600.7,274.6 L600.7,275.7 L600.7,276.8 L600.7,277.9 L600.7,278.9 L600.6,280.0 L600.6,281.1 L600.5,282.1 L600.4,283.2 L600.3,284.3 L600.2,285.3 L600.1,286.4 L600.0,287.5 L599.8,288.5 L599.7,289.6 L599.5,290.6 L599.3,291.7 L599.1,292.7 L599.0,293.8 L598.7,294.8 L598.5,295.9 L598.3,296.9 L598.1,297.9 L597.8,299.0 L597.6,300.0 L597.3,301.0 L597.0,302.1 L596.7,303.1 L596.4,304.1 L596.1,305.1 L595.8,306.1 L595.4,307.1 L595.1,308.1 L594.7,309.1 L594.4,310.1 L594.0,311.1 L593.6,312.1 L593.2,313.0 L592.8,314.0 L592.4,315.0 L592.0,315.9 L591.5,316.9 L591.1,317.8 L590.6,318.8 L590.2,319.7 L589.7,320.7 L589.2,321.6 L588.7,322.5 L588.2,323.4 L587.7,324.3 L587.2,325.2 L586.6,326.1 L586.1,327.0 L585.5,327.9 L584.9,328.7 L584.3,329.6 L583.7,330.4 L583.1,331.3 L582.5,332.1 L581.9,332.9 L581.3,333.8 L580.6,334.6 L580.0,335.4 L579.3,336.2 L578.6,336.9 L577.9,337.7 L577.2,338.5 L576.5,339.2 L575.8,339.9 L575.1,340.7 L574.4,341.4 L573.6,342.1 L572.9,342.8 L572.1,343.5 L571.4,344.2 L570.6,344.8 L569.8,345.5 L569.0,346.1 L568.2,346.8 L567.4,347.4 L566.6,348.0 L565.8,348.6 L565.0,349.2 L564.1,349.7 L563.3,350.3 L562.4,350.9 L561.6,351.4 L560.7,351.9 L559.9,352.4 L559.0,352.9 L558.2,353.4 L557.3,353.9 L556.4,354.4 L555.5,354.9 L554.6,355.3 L553.8,355.8 L552.9,356.2 L552.0,356.6 L551.1,357.0 L550.2,357.4 L549.3,357.8 L548.4,358.2 L547.5,358.6 L546.6,358.9 L545.7,359.3 L544.8,359.7 L543.9,360.0 L543.0,360.3 L542.2,360.7 L541.3,361.0 L540.4,361.3 L539.5,361.6 L538.6,361.9 L537.7,362.2 L536.8,362.5 L535.9,362.7 L535.0,363.0 L534.2,363.3 L533.3,363.5 L532.4,363.8 L531.5,364.0 L530.7,364.3 L529.8,364.5 L528.9,364.8 L528.1,365.0 L527.2,365.3 L526.4,365.5 L525.5,365.7 L524.7,365.9 L523.8,366.2 L523.0,366.4 L522.1,366.6 L521.3,366.8 L520.5,367.0 L519.6,367.3 L518.8,367.5 L518.0,367.7 L517.1,367.9 L516.3,368.1 L515.5,368.3 L514.7,368.5 L513.8,368.7 L513.0,368.9 L512.2,369.1 L511.4,369.3 L510.6,369.5 L509.8,369.7 L509.0,369.9 L508.1,370.1 L507.3,370.3 L506.5,370.5 L505.7,370.7 L504.9,370.9 L504.1,371.1 L503.3,371.2 L502.5,371.4 L501.7,371.6 L500.9,371.8 L500.1,372.0 L499.3,372.1 L498.5,372.3 L497.7,372.5 L496.9,372.7 L496.0,372.8 L495.2,373.0 L494.4,373.1 L493.6,373.3 L492.8,373.4 L492.0,373.6 L491.2,373.7 L490.4,373.9 L489.5,374.0 L488.7,374.1 L487.9,374.2 L487.1,374.4 L486.3,374.5 L485.4,374.6 L484.6,374.7 L483.8,374.8 L483.0,374.9 L482.1,375.0 L481.3,375.0 L480.5,375.1 L479.7,375.2 L478.8,375.2 L478.0,375.3 L477.2,375.3 L476.3,375.4 L475.5,375.4 L474.7,375.4 L473.8,375.4 L473.0,375.4 L472.2,375.4 L471.3,375.4 L470.5,375.4 L469.7,375.4 L468.8,375.4 L468.0,375.3 L467.1,375.3 L466.3,375.3 L465.5,375.2 L464.6,375.2 L463.8,375.1 L463.0,375.0 L462.1,374.9 L461.3,374.9 L460.4,374.8 L459.6,374.7 L458.8,374.6 L457.9,374.5 L457.1,374.3 L456.2,374.2 L455.4,374.1 L454.6,374.0 L453.7,373.8 L452.9,373.7 L452.1,373.5 L451.2,373.4 L450.4,373.2 L449.5,373.1 L448.7,372.9 L447.9,372.8 L447.0,372.6 L446.2,372.4 L445.3,372.2 L444.5,372.0 L443.7,371.9 L442.8,371.7 L442.0,371.5 L441.1,371.3 L440.3,371.1 L439.4,370.9 L438.6,370.7 L437.7,370.5 L436.9,370.2 L436.0,370.0 L435.2,369.8 L434.3,369.6 L433.4,369.4 L432.6,369.1 L431.7,368.9 L430.9,368.7 L430.0,368.4 L429.1,368.2 L428.2,367.9 L427.4,367.7 L426.5,367.4 L425.6,367.2 L424.7,366.9 L423.8,366.7 L423.0,366.4 L422.1,366.1 L421.2,365.9 L420.3,365.6 L419.4,365.3 L418.5,365.0 L417.6,364.7 L416.7,364.4 L415.7,364.1 L414.8,363.8 L413.9,363.5 L413.0,363.2 L412.1,362.9 L411.1,362.6 L410.2,362.2 L409.3,361.9 L408.4,361.5 L407.4,361.2 L406.5,360.8 L405.6,360.4 L404.6,360.1 L403.7,359.7 L402.8,359.3 L401.8,358.9 L400.9,358.5 L399.9,358.1 L399.0,357.6 L398.1,357.2 L397.1,356.7 L396.2,356.3 L395.2,355.8 L394.3,355.4 L393.4,354.9 L392.4,354.4 L391.5,353.9 L390.6,353.4 L389.7,352.8 L388.7,352.3 L387.8,351.7 L386.9,351.2 L386.0,350.6 L385.1,350.0 L384.2,349.4 L383.3,348.8 L382.4,348.2 L381.5,347.6 L380.6,347.0 L379.7,346.3 L378.8,345.7 L377.9,345.0 L377.1,344.3 L376.2,343.6 L375.4,342.9 L374.5,342.2 L373.7,341.4 L372.9,340.7 L372.0,339.9 L371.2,339.2 L370.4,338.4 L369.6,337.6 L368.9,336.8 L368.1,336.0 L367.3,335.2 L366.6,334.4 L365.8,333.5 L365.1,332.7 L364.3,331.8 L363.6,330.9 L362.9,330.0 L362.2,329.1 L361.5,328.2 L360.9,327.3 L360.2,326.4 L359.6,325.5 L358.9,324.5 L358.3,323.6 L357.7,322.6 L357.1,321.6 L356.5,320.7 L355.9,319.7 L355.4,318.7 L354.8,317.7 L354.3,316.6 L353.8,315.6 L353.2,314.6 L352.7,313.6 L352.3,312.5 L351.8,311.5 L351.3,310.4 L350.9,309.3 L350.5,308.3 L350.0,307.2 L349.6,306.1 L349.3,305.0 L348.9,303.9 L348.5,302.8 L348.2,301.7 L347.8,300.6 L347.5,299.5" stroke="#ff4d00"/>
<path d="M386.5,275.2 L386.5,274.4 L386.6,273.6 L386.6,272.8 L386.7,272.0 L386.7,271.2 L386.8,270.4 L386.9,269.6 L387.0,268.8 L387.1,268.0 L387.2,267.2 L387.3,266.4 L387.4,265.7 L387.6,264.9 L387.7,264.1 L387.9,263.3 L388.1,262.5 L388.2,261.7 L388.4,261.0 L388.6,260.2 L388.8,259.4 L389.0,258.6 L389.3,257.9 L389.5,257.1 L389.7,256.4 L390.0,255.6 L390.3,254.8 L390.5,254.1 L390.8,253.3 L391.1,252.6 L391.4,251.9 L391.7,251.1 L392.0,250.4 L392.3,249.7 L392.7,248.9 L393.0,248.2 L393.3,247.5 L393.7,246.8 L394.1,246.1 L394.4,245.4 L394.8,244.7 L395.2,244.0 L395.6,243.3 L396.0,242.6 L396.5,242.0 L396.9,241.3 L397.3,240.6 L397.8,240.0 L398.2,239.3 L398.7,238.7 L399.1,238.1 L399.6,237.4 L400.1,236.8 L400.6,236.2 L401.1,235.6 L401.6,235.0 L402.1,234.4 L402.6,233.8 L403.2,233.2 L403.7,232.7 L404.2,232.1 L404.8,231.5 L405.3,231.0 L405.9,230.5 L406.5,229.9 L407.0,229.4 L407.6,228.9 L408.2,228.4 L408.8,227.9 L409.4,227.4 L410.0,226.9 L410.6,226.4 L411.2,225.9 L411.8,225.5 L412.5,225.0 L413.1,224.6 L413.7,224.1 L414.4,223.7 L415.0,223.3 L415.6,222.9 L416.3,222.4 L416.9,222.0 L417.6,221.7 L418.2,221.3 L418.9,220.9 L419.6,220.5 L420.2,220.2 L420.9,219.8 L421.5,219.5 L422.2,219.1 L422.9,218.8 L423.5,218.5 L424.2,218.1 L424.9,217.8 L425.6,217.5 L426.2,217.2 L426.9,216.9 L427.6,216.6 L428.3,216.3 L428.9,216.0 L429.6,215.8 L430.3,215.5 L430.9,215.2 L431.6,215.0 L432.3,214.7 L433.0,214.5 L433.6,214.2 L434.3,214.0 L435.0,213.7 L435.6,213.5 L436.3,213.3 L437.0,213.1 L437.6,212.8 L438.3,212.6 L439.0,212.4 L439.6,212.2 L440.3,212.0 L441.0,211.8 L441.6,211.6 L442.3,211.4 L442.9,211.2 L443.6,211.0 L444.2,210.8 L444.9,210.6 L445.5,210.4 L446.2,210.2 L446.8,210.0 L447.5,209.8 L448.1,209.7 L448.8,209.5 L449.4,209.3 L450.1,209.1 L450.7,209.0 L451.4,208.8 L452.0,208.6 L452.7,208.5 L453.3,208.3 L454.0,208.2 L454.6,208.0 L455.2,207.8 L455.9,207.7 L456.5,207.5 L457.2,207.4 L457.8,207.3 L458.5,207.1 L459.1,207.0 L459.8,206.8 L460.4,206.7 L461.0,206.6 L461.7,206.5 L462.3,206.3 L463.0,206.2 L463.6,206.1 L464.3,206.0 L464.9,205.9 L465.6,205.8 L466.2,205.7 L466.9,205.6 L467.5,205.5 L468.2,205.4 L468.8,205.3 L469.5,205.3 L470.1,205.2 L470.8,205.1 L471.4,205.1 L472.1,205.0 L472.8,205.0 L473.4,204.9 L474.1,204.9 L474.7,204.8 L475.4,204.8 L476.0,204.8 L476.7,204.8 L477.3,204.8 L478.0,204.8 L478.7,204.8 L479.3,204.8 L480.0,204.8 L480.6,204.8 L481.3,204.8 L481.9,204.9 L482.6,204.9 L483.2,204.9 L483.9,205.0 L484.6,205.0 L485.2,205.1 L485.9,205.2 L486.5,205.2 L487.2,205.3 L487.8,205.4 L488.5,205.5 L489.1,205.6 L489.8,205.7 L490.4,205.8 L491.1,205.9 L491.7,206.0 L492.4,206.1 L493.0,206.2 L493.7,206.3 L494.3,206.5 L494.9,206.6 L495.6,206.7 L496.2,206.9 L496.9,207.0 L497.5,207.2 L498.2,207.3 L498.8,207.5 L499.4,207.7 L500.1,207.8 L500.7,208.0 L501.3,208.2 L502.0,208.3 L502.6,208.5 L503.2,208.7 L503.9,208.9 L504.5,209.1 L505.2,209.3 L505.8,209.5 L506.4,209.7 L507.1,209.9 L507.7,210.1 L508.3,210.3 L509.0,210.5 L509.6,210.7 L510.2,210.9 L510.9,211.1 L511.5,211.3 L512.1,211.6 L512.8,211.8 L513.4,212.0 L514.0,212.2 L514.7,212.5 L515.3,212.7 L515.9,212.9 L516.6,213.2 L517.2,213.4 L517.9,213.7 L518.5,213.9 L519.1,214.2 L519.8,214.4 L520.4,214.7 L521.1,214.9 L521.7,215.2 L522.4,215.5 L523.0,215.7 L523.7,216.0 L524.3,216.3 L524.9,216.6 L525.6,216.8 L526.2,217.1 L526.9,217.4 L527.5,217.7 L528.2,218.0 L528.8,218.3 L529.5,218.7 L530.1,219.0 L530.8,219.3 L531.4,219.6 L532.1,220.0 L532.7,220.3 L533.3,220.7 L534.0,221.0 L534.6,221.4 L535.3,221.7 L535.9,222.1 L536.5,222.5 L537.2,222.9 L537.8,223.2 L538.4,223.6 L539.1,224.0 L539.7,224.5 L540.3,224.9 L540.9,225.3 L541.6,225.7 L542.2,226.2 L542.8,226.6 L543.4,227.1 L544.0,227.5 L544.6,228.0 L545.2,228.4 L545.8,228.9 L546.4,229.4 L546.9,229.9 L547.5,230.4 L548.1,230.9 L548.7,231.4 L549.2,232.0 L549.8,232.5 L550.3,233.0 L550.9,233.6 L551.4,234.1 L551.9,234.7 L552.5,235.3 L553.0,235.8 L553.5,236.4 L554.0,237.0 L554.5,237.6 L555.0,238.2 L555.5,238.8 L556.0,239.4 L556.4,240.0 L556.9,240.7 L557.4,241.3 L557.8,241.9 L558.3,242.6 L558.7,243.2 L559.1,243.9 L559.6,244.5 L560.0,245.2 L560.4,245.9 L560.8,246.6 L561.2,247.2 L561.5,247.9 L561.9,248.6 L562.3,249.3 L562.6,250.0 L563.0,250.7 L563.3,251.5 L563.6,252.2 L564.0,252.9 L564.3,253.6 L564.6,254.4 L564.9,255.1 L565.2,255.8 L565.4,256.6 L565.7,257.3 L566.0,258.1 L566.2,258.8 L566.5,259.6 L566.7,260.3 L566.9,261.1 L567.2,261.9 L567.4,262.6 L567.6,263.4 L567.8,264.2 L567.9,264.9 L568.1,265.7 L568.3,266.5 L568.4,267.3 L568.6,268.1 L568.7,268.9 L568.8,269.7 L569.0,270.4 L569.1,271.2 L569.2,272.0 L569.2,272.8 L569.3,273.6 L569.4,274.4 L569.5,275.2 L569.5,276.0 L569.5,276.8 L569.6,277.6 L569.6,278.4 L569.6,279.2 L569.6,280.0 L569.6,280.8 L569.6,281.6 L569.5,282.4 L569.5,283.2 L569.4,284.0 L569.4,284.8 L569.3,285.6 L569.2,286.4 L569.1,287.2 L569.0,288.0 L568.9,288.8 L568.8,289.5 L568.6,290.3 L568.5,291.1 L568.3,291.9 L568.2,292.7 L568.0,293.4 L567.8,294.2 L567.6,295.0 L567.4,295.8 L567.2,296.5 L566.9,297.3 L566.7,298.0 L566.4,298.8 L566.2,299.5 L565.9,300.3 L565.6,301.0 L565.3,301.8 L565.0,302.5 L564.7,303.2 L564.4,303.9 L564.0,304.7 L563.7,305.4 L563.3,306.1 L562.9,306.8 L562.6,307.5 L562.2,308.2 L561.8,308.9 L561.4,309.5 L561.0,310.2 L560.5,310.9 L560.1,311.5 L559.7,312.2 L559.2,312.8 L558.8,313.5 L558.3,314.1 L557.8,314.7 L557.4,315.3 L556.9,315.9 L556.4,316.5 L555.9,317.1 L555.4,317.7 L554.9,318.3 L554.3,318.9 L553.8,319.5 L553.3,320.0 L552.7,320.6 L552.2,321.1 L551.6,321.7 L551.1,322.2 L550.5,322.7 L549.9,323.2 L549.4,323.7 L548.8,324.2 L548.2,324.7 L547.6,325.2 L547.0,325.7 L546.4,326.2 L545.8,326.6 L545.2,327.1 L544.6,327.5 L544.0,328.0 L543.4,328.4 L542.8,328.8 L542.2,329.3 L541.6,329.7 L541.0,330.1 L540.4,330.5 L539.7,330.9 L539.1,331.3 L538.5,331.7 L537.9,332.0 L537.2,332.4 L536.6,332.8 L536.0,333.1 L535.3,333.5 L534.7,333.8 L534.1,334.2 L533.5,334.5 L532.8,334.8 L532.2,335.1 L531.6,335.5 L530.9,335.8 L530.3,336.1 L529.7,336.4 L529.0,336.7 L528.4,337.0 L527.8,337.2 L527.1,337.5 L526.5,337.8 L525.9,338.1 L525.2,338.3 L524.6,338.6 L524.0,338.8 L523.3,339.1 L522.7,339.3 L522.1,339.6 L521.5,339.8 L520.8,340.0 L520.2,340.3 L519.6,340.5 L518.9,340.7 L518.3,340.9 L517.7,341.1 L517.1,341.3 L516.5,341.5 L515.8,341.7 L515.2,341.9 L514.6,342.1 L514.0,342.3 L513.4,342.5 L512.7,342.7 L512.1,342.8 L511.5,343.0 L510.9,343.2 L510.3,343.3 L509.7,343.5 L509.1,343.7 L508.4,343.8 L507.8,344.0 L507.2,344.1 L506.6,344.3 L506.0,344.4 L505.4,344.5 L504.8,344.7 L504.2,344.8 L503.6,344.9 L503.0,345.0 L502.4,345.2 L501.8,345.3 L501.2,345.4 L500.6,345.5 L500.0,345.6 L499.4,345.7 L498.8,345.8 L498.2,345.9 L497.6,346.0 L497.0,346.1 L496.4,346.2 L495.8,346.3 L495.2,346.4 L494.6,346.5 L494.0,346.5 L493.4,346.6 L492.8,346.7 L492.2,346.8 L491.6,346.8 L491.0,346.9 L490.4,347.0 L489.8,347.0 L489.2,347.1 L488.6,347.1 L488.0,347.2 L487.5,347.2 L486.9,347.3 L486.3,347.3 L485.7,347.4 L485.1,347.4 L484.5,347.5 L483.9,347.5 L483.3,347.5 L482.7,347.6 L482.1,347.6 L481.5,347.6 L481.0,347.7 L480.4,347.7 L479.8,347.7 L479.2,347.7 L478.6,347.8 L478.0,347.8 L477.4,347.8 L476.8,347.8 L476.2,347.8 L475.6,347.8 L475.0,347.8 L474.4,347.8 L473.9,347.8 L473.3,347.8 L472.7,347.8 L472.1,347.8 L471.5,347.8 L470.9,347.8 L470.3,347.7 L469.7,347.7 L469.1,347.7 L468.5,347.7 L467.9,347.6 L467.3,347.6 L466.7,347.6 L466.1,347.5 L465.5,347.5 L464.9,347.4 L464.3,347.4 L463.7,347.3 L463.1,347.3 L462.5,347.2 L461.9,347.2 L461.3,347.1 L460.7,347.0 L460.1,347.0 L459.5,346.9 L458.8,346.8 L458.2,346.7 L457.6,346.6 L457.0,346.5 L456.4,346.4 L455.8,346.3 L455.2,346.2 L454.6,346.1 L454.0,346.0 L453.4,345.9 L452.8,345.8 L452.1,345.6 L451.5,345.5 L450.9,345.4 L450.3,345.2 L449.7,345.1 L449.1,344.9 L448.5,344.8 L447.9,344.6 L447.3,344.5 L446.6,344.3 L446.0,344.1 L445.4,343.9 L444.8,343.8 L444.2,343.6 L443.6,343.4 L443.0,343.2 L442.4,343.0 L441.8,342.8 L441.1,342.6 L440.5,342.4 L439.9,342.1 L439.3,341.9 L438.7,341.7 L438.1,341.5 L437.5,341.2 L436.9,341.0 L436.3,340.7 L435.6,340.5 L435.0,340.2 L434.4,340.0 L433.8,339.7 L433.2,339.4 L432.6,339.2 L432.0,338.9 L431.4,338.6 L430.8,338.3 L430.2,338.0 L429.6,337.7 L428.9,337.4 L428.3,337.1 L427.7,336.8 L427.1,336.5 L426.5,336.2 L425.9,335.9 L425.3,335.5 L424.7,335.2 L424.1,334.8 L423.5,334.5 L422.9,334.1 L422.3,333.8 L421.7,333.4 L421.1,333.1 L420.5,332.7 L419.9,332.3 L419.3,331.9 L418.7,331.5 L418.1,331.2 L417.5,330.8 L416.9,330.4 L416.3,329.9 L415.7,329.5 L415.1,329.1 L414.6,328.7 L414.0,328.2 L413.4,327.8 L412.8,327.4 L412.2,326.9 L411.7,326.5 L411.1,326.0 L410.5,325.5 L409.9,325.0 L409.4,324.6 L408.8,324.1 L408.3,323.6 L407.7,323.1 L407.1,322.6 L406.6,322.1 L406.0,321.5 L405.5,321.0 L405.0,320.5 L404.4,319.9 L403.9,319.4 L403.4,318.8 L402.9,318.3 L402.4,317.7" stroke="#e60000"/>
<path d="M462.3,283.5 L464.8,271 L472,263.4 L484,260.8 L495.3,264.2 L501.2,269.6" stroke="#800000"/>
</g>
<mask id="lm" maskUnits="userSpaceOnUse" x="0" y="0" width="752" height="606"><rect width="752" height="606" fill="#fff"/><polygon points="235.84,295.70 243.47,295.70 243.47,301.48 235.84,301.48" fill="#000"/><polygon points="246.59,295.70 253.86,295.70 253.86,301.48 246.59,301.48" fill="#000"/><polygon points="263.90,282.29 271.53,282.29 271.53,288.07 263.90,288.07" fill="#000"/><polygon points="274.64,282.29 281.92,282.29 281.92,288.07 274.64,288.07" fill="#000"/><polygon points="283.08,282.29 290.71,282.29 290.71,288.07 283.08,288.07" fill="#000"/><polygon points="293.83,282.29 301.11,282.29 301.11,288.07 293.83,288.07" fill="#000"/><polygon points="294.84,303.09 302.44,302.42 302.95,308.18 295.35,308.84" fill="#000"/><polygon points="305.55,302.15 312.80,301.52 313.30,307.27 306.05,307.91" fill="#000"/><polygon points="328.92,289.80 336.55,289.80 336.55,295.58 328.92,295.58" fill="#000"/><polygon points="339.67,289.80 346.95,289.80 346.95,295.58 339.67,295.58" fill="#000"/><polygon points="377.03,310.93 384.47,309.21 385.77,314.84 378.33,316.56" fill="#000"/><polygon points="387.50,308.51 394.59,306.87 395.89,312.50 388.80,314.14" fill="#000"/><polygon points="469.81,271.81 473.63,278.42 468.62,281.31 464.81,274.70" fill="#000"/><polygon points="475.18,281.12 478.82,287.42 473.82,290.31 470.18,284.01" fill="#000"/><polygon points="264.56,188.69 271.36,192.16 268.74,197.31 261.94,193.84" fill="#000"/><polygon points="274.14,193.57 280.62,196.88 278.00,202.03 271.51,198.72" fill="#000"/><polygon points="513.58,202.08 515.55,194.70 521.13,196.20 519.16,203.57" fill="#000"/><polygon points="516.36,191.69 518.24,184.66 523.82,186.16 521.94,193.19" fill="#000"/><polygon points="588.09,228.59 595.00,225.37 597.45,230.60 590.53,233.83" fill="#000"/><polygon points="597.83,224.05 604.42,220.97 606.87,226.21 600.27,229.28" fill="#000"/><polygon points="622.20,293.69 629.83,293.69 629.83,299.47 622.20,299.47" fill="#000"/><polygon points="632.94,293.69 640.22,293.69 640.22,299.47 632.94,299.47" fill="#000"/><polygon points="641.38,293.69 649.01,293.69 649.01,299.47 641.38,299.47" fill="#000"/><polygon points="652.13,293.69 659.41,293.69 659.41,299.47 652.13,299.47" fill="#000"/><polygon points="630.93,324.43 638.40,326.02 637.19,331.67 629.73,330.08" fill="#000"/><polygon points="641.44,326.67 648.56,328.18 647.36,333.83 640.24,332.32" fill="#000"/></mask>
<g style="will-change:transform" fill="#000" mask="url(#lm)">
<text transform="translate(136.20 262.00) translate(-9.56 11.70)" font-size="34.5" style="font-kerning:none">5</text>
<text transform="translate(157.40 284.30) translate(-9.71 11.88)" font-size="34.5" style="font-kerning:none">6</text>
<text transform="translate(180.40 258.50) translate(-9.61 11.87)" font-size="34.5" style="font-kerning:none">7</text>
<text transform="translate(202.30 287.90) translate(-9.59 11.88)" font-size="34.5" style="font-kerning:none">8</text>
<text transform="translate(226.20 275.40) translate(-9.59 11.88)" font-size="34.5" style="font-kerning:none">9</text>
<text transform="translate(255.00 287.40) translate(-20.17 11.88)" font-size="34.5" style="font-kerning:none">10</text>
<text transform="translate(280.00 274.00) translate(-17.12 11.87)" font-size="34.5" style="font-kerning:none">11</text>
<text transform="translate(313.00 293.00) rotate(-5) translate(-19.98 12.04)" font-size="34.5" style="font-kerning:none">12</text>
<text transform="translate(348.00 281.50) translate(-20.09 11.88)" font-size="34.5" style="font-kerning:none">13</text>
<text transform="translate(394.00 298.50) rotate(-13) translate(-20.34 11.87)" font-size="34.5" style="font-kerning:none">14</text>
<text transform="translate(486.40 284.30) rotate(60) translate(-20.12 11.70)" font-size="34.5" style="font-kerning:none">15</text>
<text transform="translate(160.90 165.80) rotate(12) translate(-9.56 11.70)" font-size="34.5" style="font-kerning:none">5</text>
<text transform="translate(285.40 190.00) rotate(27) translate(-20.17 11.88)" font-size="34.5" style="font-kerning:none">10</text>
<text transform="translate(364.30 116.70) rotate(80) translate(-9.59 11.88)" font-size="34.5" style="font-kerning:none">9</text>
<text transform="translate(440.70 95.70) rotate(-90) translate(-9.59 11.88)" font-size="34.5" style="font-kerning:none">8</text>
<text transform="translate(571.50 104.50) rotate(-60) translate(-9.61 11.87)" font-size="34.5" style="font-kerning:none">7</text>
<text transform="translate(609.40 107.10) rotate(-45) translate(-9.71 11.88)" font-size="34.5" style="font-kerning:none">6</text>
<text transform="translate(679.00 150.70) rotate(-15) translate(-9.56 11.70)" font-size="34.5" style="font-kerning:none">5</text>
<text transform="translate(510.50 181.50) rotate(-75) translate(-20.09 11.88)" font-size="34.5" style="font-kerning:none">13</text>
<text transform="translate(601.70 212.90) rotate(-25) translate(-19.98 12.04)" font-size="34.5" style="font-kerning:none">12</text>
<text transform="translate(638.30 285.40) translate(-17.12 11.87)" font-size="34.5" style="font-kerning:none">11</text>
<text transform="translate(651.40 320.30) rotate(12) translate(-20.17 11.88)" font-size="34.5" style="font-kerning:none">10</text>
<text transform="translate(638.90 374.30) rotate(20) translate(-9.59 11.88)" font-size="34.5" style="font-kerning:none">9</text>
<text transform="translate(634.30 400.10) rotate(25) translate(-9.59 11.88)" font-size="34.5" style="font-kerning:none">8</text>
<text transform="translate(574.50 448.00) rotate(62) translate(-9.61 11.87)" font-size="34.5" style="font-kerning:none">7</text>
<text transform="translate(578.00 459.00) rotate(65) translate(-9.71 11.88)" font-size="34.5" style="font-kerning:none">6</text>
<text transform="translate(511.40 486.50) rotate(77) translate(-9.56 11.70)" font-size="34.5" style="font-kerning:none">5</text>
</g>
<g stroke="#262626" stroke-width="1.6" fill="none">
<rect x="120.0" y="43.9" width="619.1" height="476.9"/>
<path d="M164.7,520.8V514.3M164.7,43.9V50.4M292.3,520.8V514.3M292.3,43.9V50.4M419.9,520.8V514.3M419.9,43.9V50.4M547.4,520.8V514.3M547.4,43.9V50.4M675.0,520.8V514.3M675.0,43.9V50.4M120.0,70.3H126.5M739.1,70.3H732.6M120.0,176.2H126.5M739.1,176.2H732.6M120.0,282.1H126.5M739.1,282.1H732.6M120.0,388.0H126.5M739.1,388.0H732.6M120.0,493.9H126.5M739.1,493.9H732.6"/>
</g>
<g style="will-change:transform">
<text transform="translate(136.40 555.40) scale(0.9930 1)" font-size="28.4" fill="#262626" style="font-kerning:none;font-variant-ligatures:none">-800</text>
<text transform="translate(264.00 555.40) scale(0.9930 1)" font-size="28.4" fill="#262626" style="font-kerning:none;font-variant-ligatures:none">-600</text>
<text transform="translate(391.60 555.40) scale(0.9930 1)" font-size="28.4" fill="#262626" style="font-kerning:none;font-variant-ligatures:none">-400</text>
<text transform="translate(519.10 555.40) scale(0.9930 1)" font-size="28.4" fill="#262626" style="font-kerning:none;font-variant-ligatures:none">-200</text>
<text transform="translate(667.16 555.40) scale(0.9930 1)" font-size="28.4" fill="#262626" style="font-kerning:none;font-variant-ligatures:none">0</text>
<text transform="translate(55.36 80.80) scale(0.9930 1)" font-size="28.4" fill="#262626" style="font-kerning:none;font-variant-ligatures:none">-400</text>
<text transform="translate(55.36 186.70) scale(0.9930 1)" font-size="28.4" fill="#262626" style="font-kerning:none;font-variant-ligatures:none">-200</text>
<text transform="translate(97.82 292.60) scale(0.9930 1)" font-size="28.4" fill="#262626" style="font-kerning:none;font-variant-ligatures:none">0</text>
<text transform="translate(66.45 398.50) scale(0.9930 1)" font-size="28.4" fill="#262626" style="font-kerning:none;font-variant-ligatures:none">200</text>
<text transform="translate(66.45 504.40) scale(0.9930 1)" font-size="28.4" fill="#262626" style="font-kerning:none;font-variant-ligatures:none">400</text>
<text transform="translate(387.44 592.40) scale(0.9655 1)" font-size="29.0" fill="#262626" style="font-kerning:none;font-variant-ligatures:none">X (km)</text>
<text transform="translate(41.30 324.35) rotate(-90) scale(0.9655 1)" font-size="29.0" fill="#262626" style="font-kerning:none;font-variant-ligatures:none">Y (km)</text>
<text transform="translate(210.52 30.00) scale(0.9809 1)" font-size="28.8" fill="#000" style="font-kerning:none;font-variant-ligatures:none">FY3E Reflection Antenna Footprint</text>
</g>
</svg></body></html>
